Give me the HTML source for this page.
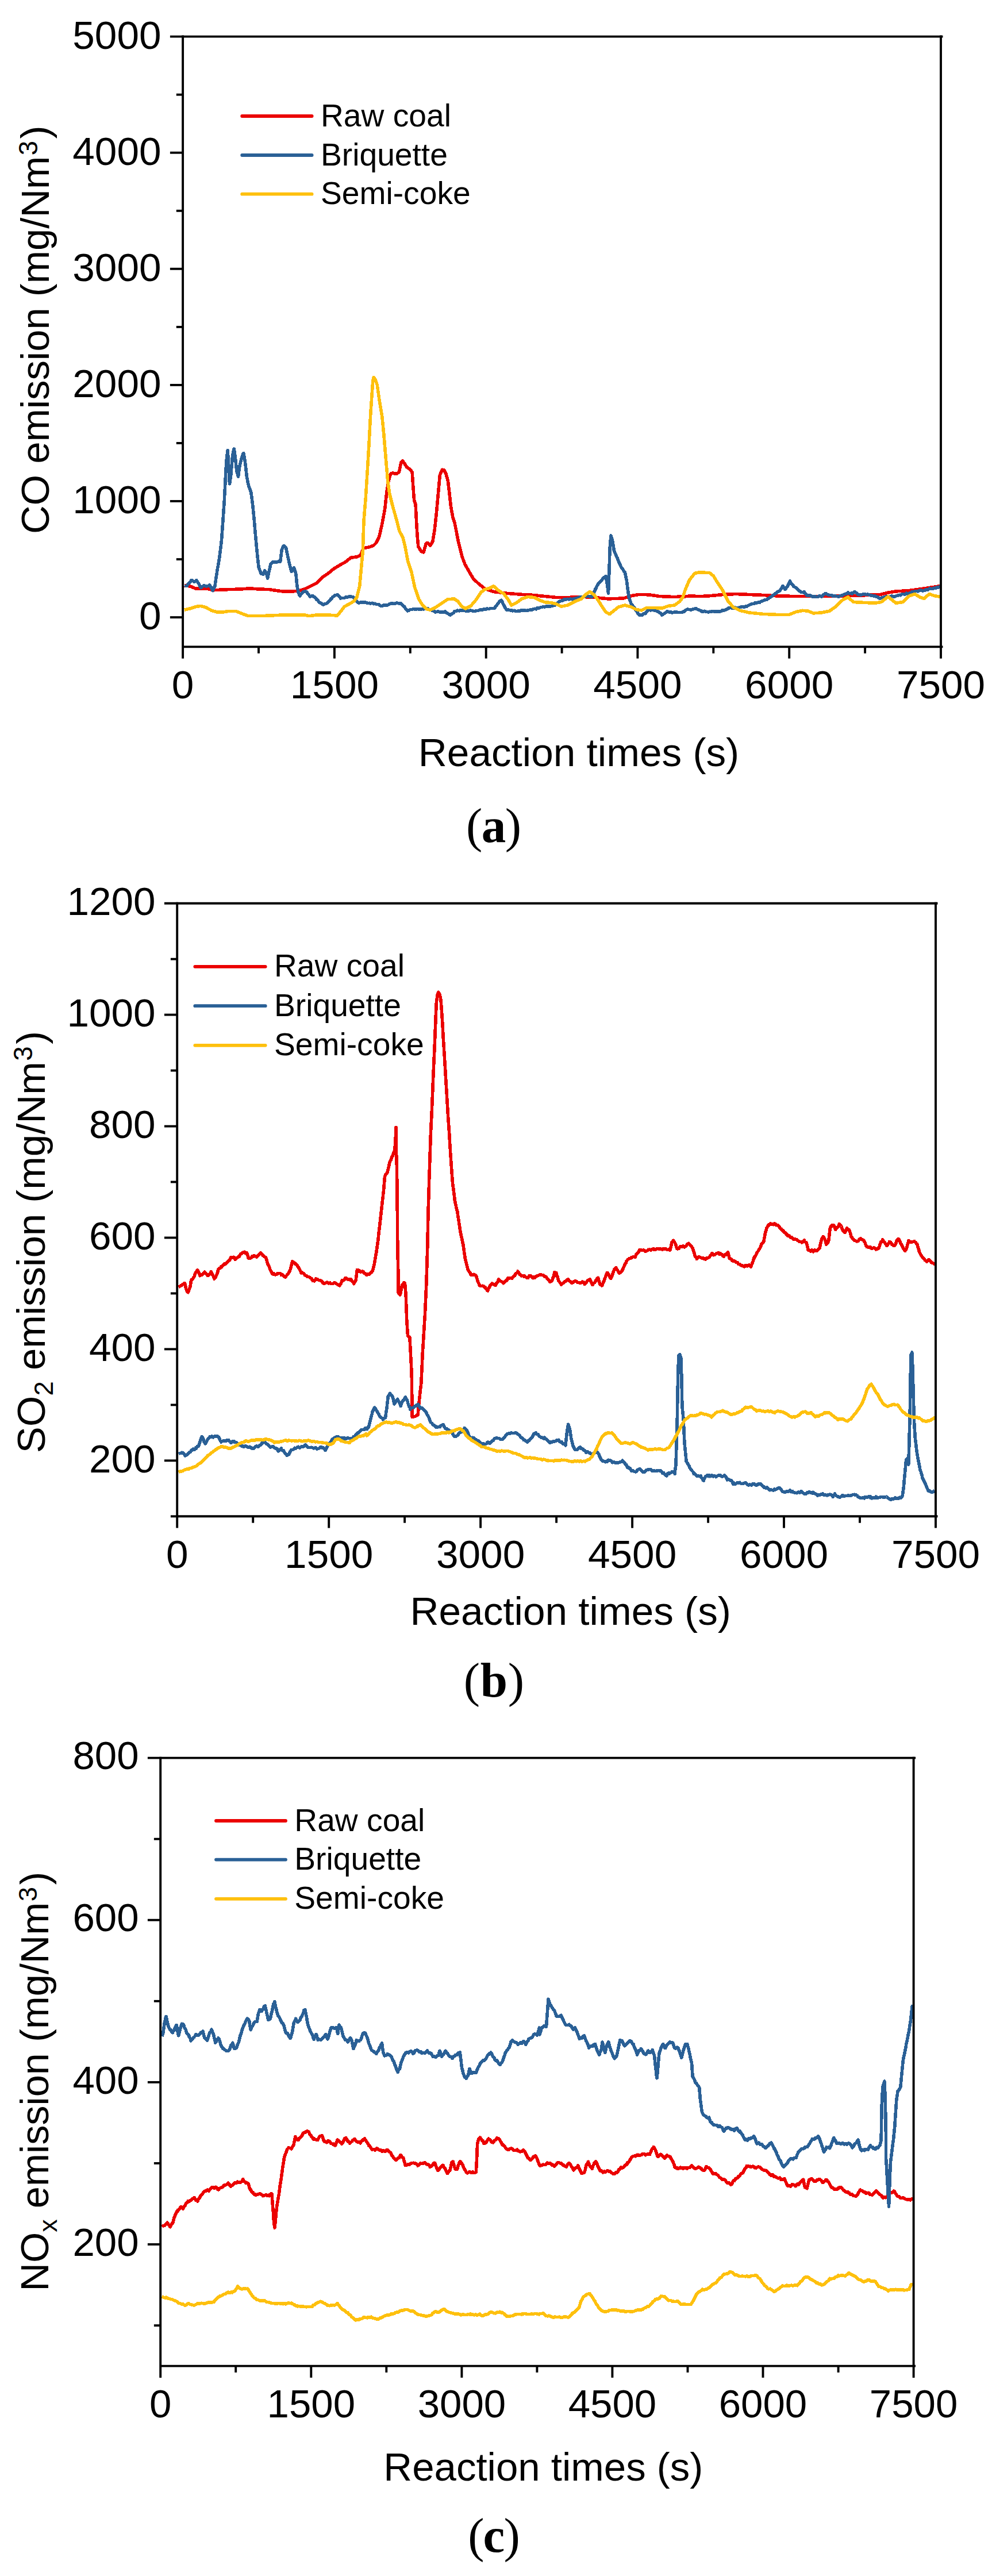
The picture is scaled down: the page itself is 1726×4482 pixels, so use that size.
<!DOCTYPE html>
<html><head><meta charset="utf-8"><title>Emission figures</title>
<style>html,body{margin:0;padding:0;background:#fff}svg{display:block}text{font-family:"Liberation Sans",Arial,sans-serif;fill:#000}.lab{font-family:"Liberation Serif","Times New Roman",serif}</style></head><body>
<svg width="1726" height="4482" viewBox="0 0 1726 4482">
<rect width="1726" height="4482" fill="#fff"/>
<g id="chart1">
<clipPath id="cp0"><rect x="318.1" y="63.6" width="1318.9" height="1061.8"/></clipPath>
<g clip-path="url(#cp0)">
<polyline points="320.7,1018.8 331.3,1020.1 339.6,1023.8 351.3,1023.8 361.2,1024.5 371.2,1026.8 384.5,1026.1 401.2,1025.5 417.8,1025.1 434.4,1023.8 451.1,1025.1 467.7,1025.5 477.7,1027.1 491.0,1028.8 510.9,1028.8 520.9,1027.8 530.9,1024.5 540.9,1019.5 550.9,1014.5 560.8,1004.5 570.8,997.9 580.8,989.5 590.8,983.5 600.8,977.9 610.7,970.2 620.7,968.9 627.4,966.2 632.4,953.9 642.9,951.7 649.6,949.4 654.6,944.4 659.6,934.4 664.6,912.8 669.6,886.2 672.9,856.2 676.2,836.3 679.5,824.6 682.9,823.0 689.5,824.6 694.5,821.3 697.8,804.7 700.5,802.0 703.8,806.3 707.8,813.0 712.8,816.3 717.1,821.3 718.8,846.2 720.5,869.5 723.1,877.9 724.5,906.1 726.1,932.7 727.8,951.0 732.8,959.4 737.1,961.0 741.1,946.0 743.7,944.4 748.4,949.4 752.7,942.7 756.1,922.8 759.4,892.8 762.7,856.2 765.4,826.3 769.4,817.3 772.7,818.0 776.0,824.6 779.3,836.3 781.7,856.2 784.3,879.5 787.7,899.5 791.0,909.5 794.3,926.1 797.6,942.7 801.0,956.0 804.3,969.3 809.3,982.6 814.3,991.0 819.3,999.9 823.4,1006.5 832.3,1015.3 843.4,1024.2 858.9,1029.5 881.1,1032.2 903.2,1034.0 925.4,1035.3 947.6,1037.5 969.8,1039.7 992.0,1039.3 1014.1,1038.4 1036.3,1039.7 1058.5,1041.9 1085.1,1041.0 1098.4,1036.6 1111.7,1034.4 1129.5,1034.8 1147.2,1037.5 1169.4,1038.4 1188.0,1038.2 1201.9,1036.8 1215.8,1037.7 1234.4,1036.8 1257.6,1034.5 1280.7,1033.5 1303.9,1034.5 1327.1,1035.4 1350.3,1036.8 1373.5,1037.3 1396.7,1037.7 1419.9,1037.7 1443.0,1037.3 1466.2,1036.8 1489.4,1036.3 1512.6,1035.4 1531.1,1034.5 1545.1,1031.2 1559.0,1028.9 1582.2,1027.5 1605.3,1024.3 1623.9,1021.5 1635.5,1019.6" fill="none" stroke="#EB0000" stroke-width="5.6" stroke-linejoin="round" stroke-linecap="butt" shape-rendering="crispEdges"/>
<polyline points="320.7,1019.5 323.2,1019.6 325.6,1018.9 326.3,1017.5 327.9,1015.1 330.1,1013.6 332.3,1010.7 333.0,1009.6 334.6,1010.0 337.0,1011.9 338.0,1012.2 339.5,1011.6 341.9,1009.6 342.0,1010.1 344.0,1012.9 346.2,1016.4 346.3,1016.4 348.2,1020.7 349.6,1022.8 350.3,1022.2 352.7,1020.3 354.6,1019.2 355.1,1018.6 357.6,1019.8 359.6,1020.0 360.1,1019.7 362.6,1019.5 364.6,1017.8 364.9,1018.5 367.0,1021.6 369.0,1024.9 370.2,1027.7 371.0,1025.4 373.0,1021.5 373.9,1019.8 374.6,1015.0 375.9,1005.9 377.2,997.9 377.9,993.0 378.5,989.4 379.9,981.5 381.3,973.2 381.9,969.8 382.6,963.9 383.7,954.9 384.9,945.3 385.5,939.4 385.9,934.5 386.7,922.6 387.6,910.7 387.9,906.4 388.4,898.9 389.2,887.3 390.0,875.2 390.2,873.3 390.7,862.4 391.4,849.6 391.9,840.1 392.0,836.5 392.7,823.8 393.4,811.3 393.8,803.4 394.3,799.6 395.4,789.7 396.2,783.8 396.5,788.6 397.2,800.4 397.8,810.1 398.0,812.8 398.7,826.0 399.3,838.5 399.5,841.8 400.5,835.1 401.8,826.5 401.8,826.4 402.7,815.2 403.7,803.8 404.5,793.2 404.6,792.4 406.1,785.5 407.2,780.9 407.6,783.6 408.8,791.8 409.5,796.8 410.0,802.0 411.0,812.5 411.8,819.7 412.3,821.8 414.0,826.8 414.5,829.3 415.3,822.6 416.6,813.6 417.1,810.1 418.1,805.7 419.7,799.7 420.5,796.8 421.4,793.8 423.3,789.0 423.8,788.5 424.9,794.2 426.3,802.5 426.4,803.0 427.4,811.8 428.5,821.5 429.4,830.0 429.7,830.8 431.2,839.2 432.7,845.6 432.8,846.6 434.6,850.3 436.4,855.3 436.8,856.7 437.8,863.8 439.0,873.0 439.4,876.5 440.1,883.2 441.1,893.3 441.8,900.0 442.2,904.0 443.1,914.8 444.1,926.0 444.4,929.7 445.1,937.1 446.0,947.5 447.0,958.6 447.1,959.3 448.1,968.7 449.2,978.8 450.1,986.4 450.5,987.9 452.3,992.7 454.2,997.9 454.4,998.0 456.6,998.9 457.7,999.4 458.7,997.3 460.4,992.8 460.6,992.6 462.7,996.3 463.7,998.1 464.6,1001.0 465.7,1006.2 466.1,1003.8 467.6,996.5 468.4,992.6 469.2,989.9 470.7,982.2 471.0,981.3 472.9,979.2 474.4,977.6 475.2,978.1 477.8,977.7 480.3,977.9 481.0,978.6 482.8,977.7 485.3,976.8 487.7,977.0 487.7,976.4 488.9,967.5 490.1,958.2 490.3,956.6 492.0,952.5 493.6,949.6 494.0,949.5 496.4,952.0 497.6,953.0 498.3,956.6 499.8,963.9 500.3,966.1 501.3,970.7 502.9,977.8 503.6,980.9 504.5,984.0 506.1,990.9 507.0,994.3 507.9,993.5 510.1,989.6 511.6,987.6 512.1,989.2 513.8,995.2 514.9,999.3 515.3,1003.1 516.3,1013.4 516.9,1019.4 517.6,1022.8 519.0,1029.7 519.3,1031.4 520.9,1035.4 521.9,1036.9 523.0,1035.1 525.1,1032.2 525.9,1031.2 527.5,1029.6 529.9,1029.1 530.9,1028.8 532.3,1029.2 534.2,1030.9 534.6,1032.1 536.8,1034.3 538.9,1037.4 539.2,1038.0 541.4,1037.5 543.9,1036.4 544.2,1037.1 546.3,1038.4 548.5,1039.8 550.8,1043.1 550.9,1042.5 553.1,1044.7 555.4,1047.9 557.5,1049.5 557.6,1048.6 560.0,1050.7 562.4,1051.9 562.5,1052.1 564.9,1050.6 567.3,1050.3 569.2,1049.2 569.7,1048.4 572.0,1046.1 574.2,1044.6 575.8,1041.8 576.5,1042.0 578.7,1038.9 581.0,1037.5 582.5,1036.0 583.4,1035.7 585.8,1035.3 586.8,1034.4 588.2,1035.3 590.4,1037.6 592.4,1040.2 592.7,1041.1 595.2,1040.4 597.8,1040.7 600.4,1039.9 600.8,1039.2 602.9,1039.2 605.4,1038.8 607.4,1037.9 607.9,1037.8 610.4,1037.9 613.0,1038.5 614.1,1038.9 615.3,1039.8 617.6,1042.8 619.1,1044.4 619.8,1045.9 622.1,1047.6 624.0,1049.0 624.4,1049.4 627.0,1048.1 629.6,1047.7 632.1,1047.9 634.0,1047.6 634.7,1047.7 637.2,1048.6 639.8,1049.5 642.3,1049.3 644.8,1050.1 647.4,1049.2 649.9,1050.1 650.7,1050.8 652.4,1050.3 654.9,1051.5 657.4,1051.5 659.9,1052.2 662.4,1054.4 664.0,1054.3 664.9,1054.2 667.5,1052.9 670.1,1053.0 672.6,1052.6 672.8,1053.2 675.1,1052.6 677.5,1051.1 680.0,1050.3 681.7,1049.4 682.5,1049.7 685.1,1050.5 687.7,1050.1 690.3,1048.8 692.9,1049.6 695.5,1050.0 697.2,1049.5 698.0,1051.0 700.3,1052.4 702.5,1054.9 703.9,1055.7 704.8,1057.8 706.9,1060.4 709.1,1062.9 709.2,1062.7 711.6,1062.0 714.1,1060.4 716.5,1060.6 717.2,1060.5 719.1,1059.5 721.7,1060.0 724.2,1059.9 726.8,1059.6 729.4,1060.0 732.0,1060.4 734.6,1059.8 734.9,1059.3 737.1,1060.0 739.7,1058.5 742.3,1059.1 743.8,1058.6 744.8,1059.4 747.2,1060.6 749.7,1060.5 752.1,1062.3 754.5,1062.9 756.9,1064.2 757.0,1065.1 759.6,1064.6 762.1,1063.6 764.7,1064.7 767.3,1065.4 768.0,1065.2 769.8,1065.0 772.4,1065.0 774.6,1063.8 774.9,1065.1 777.3,1066.3 779.6,1067.6 782.0,1069.7 783.5,1070.1 784.4,1068.5 786.7,1068.0 789.0,1066.2 791.4,1063.4 792.4,1063.4 793.8,1063.2 796.4,1062.1 798.9,1063.0 801.5,1061.4 803.4,1062.0 804.0,1061.8 806.6,1061.8 809.2,1062.7 811.7,1062.8 814.3,1062.6 814.5,1063.5 816.8,1062.3 819.4,1062.1 822.0,1062.9 824.6,1063.6 827.2,1063.1 827.8,1062.9 829.7,1062.4 832.3,1062.4 834.8,1061.3 837.4,1060.7 839.9,1060.8 841.1,1060.3 842.4,1059.5 845.0,1060.4 847.5,1058.9 850.0,1059.6 852.2,1059.0 852.6,1058.6 855.1,1058.7 857.7,1058.5 860.2,1058.3 861.1,1057.2 862.5,1055.0 864.7,1052.5 866.8,1049.7 867.8,1048.5 869.1,1046.4 871.3,1045.1 872.2,1044.4 873.4,1046.4 875.4,1050.7 876.6,1053.0 877.5,1054.3 879.5,1058.5 881.1,1060.4 881.7,1061.0 884.3,1061.0 886.8,1061.5 889.3,1062.6 889.9,1061.6 891.9,1062.8 894.4,1062.2 897.0,1063.2 898.8,1063.4 899.5,1063.5 902.1,1062.7 904.6,1063.3 907.2,1061.6 909.8,1062.4 912.1,1061.8 912.3,1061.9 914.9,1062.4 917.5,1062.1 920.1,1061.6 922.6,1060.8 925.2,1060.5 925.4,1061.0 927.7,1059.9 930.2,1059.3 932.7,1059.9 935.2,1057.7 937.7,1058.3 938.7,1057.4 940.2,1056.9 942.8,1056.4 945.3,1055.5 947.8,1055.9 950.4,1054.9 952.0,1055.2 952.9,1054.7 955.5,1055.4 958.0,1055.1 960.5,1053.7 963.1,1053.7 965.3,1053.3 965.6,1052.5 967.9,1050.4 970.3,1048.9 972.6,1047.0 974.2,1046.5 975.0,1045.8 977.4,1044.8 979.9,1044.7 982.3,1042.6 983.1,1043.0 984.9,1043.0 987.4,1042.3 990.0,1043.0 992.6,1041.9 995.2,1042.8 996.4,1042.2 997.7,1041.6 1000.2,1041.3 1002.7,1041.1 1005.2,1040.1 1007.7,1039.4 1009.7,1038.6 1010.2,1039.2 1012.8,1038.6 1015.3,1038.9 1017.9,1037.3 1020.5,1037.8 1020.8,1037.6 1023.0,1037.5 1025.6,1037.8 1028.2,1037.6 1029.7,1038.7 1030.5,1036.4 1032.4,1032.4 1034.4,1028.8 1036.3,1024.0 1036.4,1024.8 1038.5,1020.0 1040.6,1016.4 1042.6,1013.4 1043.0,1013.0 1044.8,1011.7 1047.1,1009.1 1049.3,1006.4 1049.6,1005.5 1051.6,1004.4 1054.0,1002.4 1054.0,1003.1 1055.4,1010.6 1056.3,1015.2 1056.8,1019.3 1058.0,1028.1 1058.5,1032.1 1058.8,1024.1 1059.3,1010.0 1059.8,997.4 1059.9,996.2 1060.3,981.8 1060.7,967.4 1061.1,953.1 1061.2,952.9 1062.1,941.7 1062.9,931.8 1063.1,932.7 1064.9,937.7 1065.6,939.8 1066.4,945.6 1067.7,953.5 1068.2,957.4 1069.4,960.7 1071.3,964.6 1073.2,969.5 1074.0,970.7 1075.1,973.6 1077.1,978.6 1079.0,982.4 1080.7,986.7 1081.0,987.1 1083.1,989.6 1085.3,993.5 1087.3,995.3 1087.4,995.8 1088.9,1003.4 1090.4,1010.5 1090.4,1011.1 1091.6,1019.9 1092.8,1029.1 1094.0,1037.5 1094.1,1038.6 1095.9,1043.9 1097.7,1049.1 1098.4,1050.8 1099.7,1052.2 1101.9,1055.1 1102.8,1055.9 1104.1,1057.4 1106.2,1062.1 1108.3,1063.9 1109.5,1066.6 1110.5,1067.6 1112.7,1070.3 1113.9,1070.5 1115.1,1070.0 1117.6,1070.1 1120.0,1067.7 1122.5,1067.0 1122.8,1067.6 1124.8,1065.0 1127.0,1062.5 1129.3,1061.1 1129.5,1060.3 1131.8,1061.8 1134.3,1061.6 1136.9,1060.8 1138.3,1062.1 1139.4,1061.8 1141.9,1063.0 1144.3,1064.0 1145.0,1063.9 1146.7,1065.6 1149.0,1066.8 1151.3,1069.1 1151.6,1070.1 1153.6,1069.2 1156.0,1067.1 1158.4,1065.8 1160.5,1064.3 1160.8,1063.5 1163.3,1064.8 1165.8,1064.7 1168.3,1065.3 1169.4,1066.1 1170.8,1065.6 1173.4,1065.1 1176.0,1065.2 1178.5,1065.3 1181.1,1065.5 1183.6,1065.7 1186.2,1065.6 1188.0,1064.7 1188.7,1064.3 1191.2,1063.8 1193.6,1061.2 1196.0,1059.9 1197.3,1060.2 1198.4,1060.6 1200.9,1060.5 1201.9,1061.3 1203.4,1060.5 1205.9,1060.0 1208.4,1059.3 1210.9,1058.5 1211.2,1058.8 1213.3,1060.2 1215.7,1061.0 1218.1,1062.0 1220.5,1063.1 1220.6,1063.8 1223.1,1064.5 1225.7,1063.2 1228.3,1064.4 1230.8,1064.7 1233.4,1064.8 1234.4,1064.3 1235.9,1064.6 1238.5,1063.8 1241.1,1063.6 1243.7,1064.2 1246.2,1064.1 1248.8,1063.9 1251.4,1064.0 1254.0,1063.7 1255.2,1063.2 1256.5,1061.9 1258.9,1062.3 1261.4,1061.4 1263.8,1060.4 1266.3,1059.0 1266.8,1058.3 1268.8,1057.9 1271.4,1057.5 1274.0,1058.4 1276.6,1058.0 1279.1,1057.1 1280.7,1057.9 1281.7,1058.5 1284.2,1057.9 1286.8,1056.7 1289.3,1056.0 1291.9,1055.5 1294.4,1056.3 1297.0,1055.7 1297.0,1055.2 1299.4,1055.1 1301.9,1053.5 1304.3,1052.2 1306.8,1051.3 1308.6,1050.8 1309.3,1050.5 1311.8,1050.3 1314.3,1048.6 1316.8,1049.2 1319.3,1047.8 1321.8,1048.4 1322.5,1047.3 1324.3,1046.4 1326.7,1045.7 1329.2,1044.4 1331.6,1043.6 1334.0,1043.2 1336.4,1041.3 1336.5,1041.9 1338.8,1040.1 1341.2,1038.7 1343.6,1036.6 1345.9,1035.0 1348.3,1033.2 1350.3,1032.1 1350.7,1031.5 1353.0,1029.8 1355.4,1028.7 1357.3,1027.3 1357.7,1026.7 1359.8,1023.4 1361.8,1019.4 1361.9,1019.4 1364.0,1022.4 1366.2,1025.5 1366.5,1025.0 1368.4,1022.6 1370.5,1019.5 1371.2,1018.5 1372.5,1015.6 1374.4,1011.2 1374.5,1010.9 1376.6,1014.9 1378.8,1017.0 1380.4,1019.3 1381.0,1020.7 1383.3,1021.4 1385.6,1023.4 1387.4,1025.1 1387.9,1025.2 1390.3,1027.9 1392.6,1029.1 1394.4,1030.7 1395.0,1030.5 1397.5,1030.8 1399.0,1029.5 1399.9,1031.1 1402.0,1033.2 1403.6,1035.7 1404.3,1036.2 1406.9,1036.1 1409.4,1035.9 1411.9,1037.4 1414.5,1038.4 1415.2,1037.8 1417.1,1037.7 1419.7,1038.3 1422.3,1038.6 1424.9,1037.0 1427.5,1037.3 1429.1,1038.0 1430.0,1037.8 1432.3,1034.7 1434.6,1033.7 1436.1,1032.4 1436.9,1032.8 1439.4,1034.3 1441.8,1035.2 1443.0,1035.7 1444.2,1035.5 1446.8,1035.5 1449.3,1037.0 1451.9,1036.3 1454.4,1037.6 1457.0,1037.7 1457.0,1037.6 1459.5,1038.1 1462.0,1036.5 1464.6,1036.2 1466.2,1035.8 1467.0,1034.9 1469.5,1033.7 1471.9,1033.1 1474.3,1032.4 1475.5,1031.0 1476.8,1032.4 1479.3,1032.6 1481.8,1032.0 1482.5,1033.2 1484.2,1031.7 1486.5,1030.3 1487.1,1029.6 1488.9,1031.0 1491.2,1032.6 1493.6,1034.7 1494.0,1034.5 1496.1,1034.9 1498.7,1034.9 1501.3,1033.9 1503.9,1033.5 1506.5,1034.4 1508.0,1034.3 1509.1,1034.0 1511.7,1034.7 1514.2,1035.6 1516.7,1036.2 1519.3,1036.6 1521.8,1037.6 1521.9,1036.6 1524.2,1038.1 1526.6,1038.4 1529.1,1040.7 1531.1,1041.4 1531.5,1040.6 1534.0,1040.1 1536.4,1039.9 1538.9,1038.7 1540.4,1038.5 1541.4,1037.9 1544.0,1037.7 1546.6,1038.8 1549.2,1038.1 1551.8,1037.0 1554.3,1037.9 1554.3,1037.5 1556.9,1038.0 1559.4,1036.7 1561.9,1036.4 1563.6,1035.6 1564.4,1035.3 1566.9,1035.8 1569.5,1033.5 1572.0,1033.7 1574.5,1034.2 1577.1,1032.2 1577.5,1033.2 1579.6,1033.4 1582.0,1032.1 1584.5,1031.7 1587.0,1029.4 1589.5,1029.6 1591.4,1029.0 1592.0,1028.7 1594.6,1028.4 1597.1,1028.9 1599.7,1027.4 1602.3,1026.9 1604.8,1027.8 1605.3,1027.8 1607.3,1027.7 1609.9,1026.8 1612.4,1025.5 1614.9,1026.1 1617.4,1023.8 1619.2,1024.1 1619.9,1024.7 1622.4,1024.5 1625.0,1023.1 1627.5,1023.7 1630.1,1021.7 1632.6,1022.2 1635.1,1020.7 1635.5,1021.3" fill="none" stroke="#2A6096" stroke-width="5.6" stroke-linejoin="round" stroke-linecap="butt" shape-rendering="crispEdges"/>
<polyline points="320.7,1061.1 331.3,1058.7 341.3,1055.4 349.6,1054.4 357.9,1056.7 367.9,1062.1 377.9,1065.1 387.9,1065.1 397.8,1063.4 411.1,1063.7 421.1,1067.7 431.1,1071.4 451.1,1071.7 471.0,1071.0 491.0,1070.0 517.6,1070.0 530.9,1070.0 537.6,1071.7 550.9,1070.0 570.8,1070.0 586.8,1071.0 592.4,1064.4 599.1,1055.4 607.4,1051.1 615.7,1046.1 620.7,1039.4 625.7,1019.5 631.3,959.4 633.0,906.1 636.3,866.2 639.6,813.0 642.0,773.1 644.6,723.2 647.3,683.2 648.9,661.6 650.3,656.6 652.9,660.0 656.3,669.9 659.6,693.2 664.6,723.2 667.9,756.4 671.2,796.4 674.6,836.3 677.9,859.6 682.9,879.5 689.5,902.8 694.5,922.8 701.2,936.1 705.2,952.7 709.5,976.0 716.1,995.9 721.6,1021.7 728.3,1041.6 734.9,1052.7 741.6,1059.4 748.2,1061.1 756.9,1057.5 768.0,1049.9 779.0,1042.8 790.1,1041.9 796.8,1046.4 803.4,1055.2 810.1,1058.8 819.0,1054.4 827.8,1044.2 836.7,1030.8 843.4,1025.5 852.2,1023.3 858.9,1019.8 867.8,1027.7 876.6,1033.1 883.3,1041.9 889.9,1053.0 898.8,1048.6 907.7,1041.9 918.8,1038.4 929.9,1039.7 938.7,1044.2 947.6,1047.7 958.7,1048.6 967.6,1050.8 976.4,1055.2 987.5,1053.0 1000.8,1046.4 1011.9,1041.9 1020.8,1033.1 1026.5,1029.5 1034.1,1035.3 1040.7,1044.2 1047.4,1055.2 1054.0,1065.0 1060.7,1068.5 1067.4,1063.2 1076.2,1056.1 1087.3,1053.0 1098.4,1056.1 1107.3,1060.6 1116.1,1061.9 1125.0,1057.5 1138.3,1057.5 1151.6,1058.3 1162.7,1054.4 1173.8,1053.0 1182.7,1046.4 1188.0,1039.1 1192.6,1025.2 1199.6,1009.0 1208.9,997.4 1215.8,996.0 1234.4,996.5 1241.3,1002.0 1248.3,1013.6 1257.6,1027.5 1266.8,1046.1 1276.1,1056.7 1287.7,1062.3 1303.9,1066.0 1327.1,1068.3 1350.3,1069.3 1373.5,1069.3 1385.1,1064.6 1396.7,1062.3 1405.9,1063.2 1415.2,1066.9 1429.1,1066.0 1443.0,1063.2 1454.6,1055.3 1466.2,1043.8 1475.5,1039.1 1484.8,1047.5 1503.3,1048.4 1521.9,1049.3 1533.5,1047.5 1545.1,1038.2 1552.0,1043.8 1559.0,1049.3 1570.6,1047.5 1582.2,1036.8 1591.4,1033.5 1600.7,1039.1 1607.7,1041.4 1616.9,1033.5 1626.2,1036.8 1635.5,1038.2" fill="none" stroke="#FEC00E" stroke-width="5.6" stroke-linejoin="round" stroke-linecap="butt" shape-rendering="crispEdges"/>
</g>
<g stroke="#000" stroke-width="3.9" fill="none" stroke-linecap="butt">
<path d="M318.1 61.6 V1145.7"/>
<path d="M1637.0 61.6 V1145.7"/>
<path d="M295.9 63.6 H1640.5"/>
<path d="M318.1 1125.4 H1640.5"/>
<path d="M295.9 1074.1 H318.1"/>
<path d="M295.9 872.0 H318.1"/>
<path d="M295.9 669.9 H318.1"/>
<path d="M295.9 467.8 H318.1"/>
<path d="M295.9 265.7 H318.1"/>
<path d="M306.8 973.1 H318.1"/>
<path d="M306.8 771.0 H318.1"/>
<path d="M306.8 568.9 H318.1"/>
<path d="M306.8 366.8 H318.1"/>
<path d="M306.8 164.7 H318.1"/>
<path d="M581.9 1125.4 V1145.7"/>
<path d="M845.7 1125.4 V1145.7"/>
<path d="M1109.4 1125.4 V1145.7"/>
<path d="M1373.2 1125.4 V1145.7"/>
<path d="M450.0 1125.4 V1136.8"/>
<path d="M713.8 1125.4 V1136.8"/>
<path d="M977.6 1125.4 V1136.8"/>
<path d="M1241.3 1125.4 V1136.8"/>
<path d="M1505.1 1125.4 V1136.8"/>
</g>
<g font-size="69.3">
<text transform="translate(280.5 1095.4) scale(1 1)" text-anchor="end">0</text>
<text transform="translate(280.5 893.3) scale(1 1)" text-anchor="end">1000</text>
<text transform="translate(280.5 691.2) scale(1 1)" text-anchor="end">2000</text>
<text transform="translate(280.5 489.1) scale(1 1)" text-anchor="end">3000</text>
<text transform="translate(280.5 287.0) scale(1 1)" text-anchor="end">4000</text>
<text transform="translate(280.5 84.9) scale(1 1)" text-anchor="end">5000</text>
<text transform="translate(318.1 1214.8) scale(1 1)" text-anchor="middle">0</text>
<text transform="translate(581.9 1214.8) scale(1 1)" text-anchor="middle">1500</text>
<text transform="translate(845.7 1214.8) scale(1 1)" text-anchor="middle">3000</text>
<text transform="translate(1109.4 1214.8) scale(1 1)" text-anchor="middle">4500</text>
<text transform="translate(1373.2 1214.8) scale(1 1)" text-anchor="middle">6000</text>
<text transform="translate(1637.0 1214.8) scale(1 1)" text-anchor="middle">7500</text>
<text transform="translate(1007.0 1332.5) scale(1 1)" text-anchor="middle">Reaction times (s)</text>
<text transform="translate(84.7 929.1) rotate(-90) scale(1 1)" font-size="68.80" x="0" y="0">CO emission (mg/Nm<tspan font-size="45.4" dy="-20.0" dx="1.5">3</tspan><tspan dy="20.0" dx="3.5">)</tspan></text>
</g>
<g stroke-width="5.8" fill="none" stroke-linecap="round">
<path d="M421.2 202.0 H542.6" stroke="#EB0000"/>
<path d="M421.2 270.0 H542.6" stroke="#2A6096"/>
<path d="M421.2 337.7 H542.6" stroke="#FEC00E"/>
</g>
<g font-size="55.2">
<text transform="translate(558.0 219.6) scale(1 1)">Raw coal</text>
<text transform="translate(558.0 287.6) scale(1 1)">Briquette</text>
<text transform="translate(558.0 355.3) scale(1 1)">Semi-coke</text>
</g>
<text class="lab" x="858.2" y="1464.7" text-anchor="middle" font-size="85" letter-spacing="-1.5">(<tspan font-weight="bold">a</tspan>)</text>
</g>
<g id="chart2">
<clipPath id="cp1"><rect x="308.2" y="1571.7" width="1319.8" height="1066.6"/></clipPath>
<g clip-path="url(#cp1)">
<polyline points="310.7,2239.7 313.0,2237.9 315.4,2236.6 316.3,2236.2 317.7,2234.7 320.1,2233.2 321.3,2232.5 322.1,2234.9 323.7,2242.1 324.0,2243.2 325.7,2246.9 327.3,2248.6 327.7,2247.4 329.5,2241.8 330.6,2240.0 331.2,2236.8 332.6,2227.6 332.9,2226.9 334.6,2226.1 336.9,2222.9 337.9,2221.5 338.9,2218.1 340.8,2213.0 341.3,2213.1 343.0,2210.1 343.9,2210.1 345.1,2212.5 347.0,2216.4 347.9,2219.7 349.2,2218.7 351.5,2218.4 352.9,2216.5 353.8,2215.9 356.1,2213.2 356.2,2213.3 358.3,2215.5 360.5,2217.6 361.2,2219.6 362.8,2219.0 365.0,2216.3 367.2,2213.3 367.3,2212.8 369.2,2216.7 369.5,2217.9 371.2,2220.4 372.9,2225.0 373.3,2223.9 375.4,2221.9 376.2,2219.6 377.3,2217.5 379.1,2211.9 379.5,2209.3 381.2,2206.9 383.4,2206.3 384.5,2203.8 385.7,2204.6 388.1,2201.3 390.5,2198.9 391.2,2199.9 392.8,2199.3 395.1,2195.9 396.2,2195.4 397.4,2193.7 399.5,2192.6 401.1,2189.4 401.8,2187.8 404.3,2187.7 406.1,2187.7 406.8,2187.3 409.1,2191.2 409.5,2190.2 411.5,2189.3 413.9,2187.4 414.5,2186.8 416.2,2186.1 418.4,2182.1 420.7,2181.4 421.1,2180.1 423.1,2179.3 424.4,2178.5 425.5,2178.3 428.0,2181.1 429.4,2180.1 430.2,2181.8 432.0,2188.6 432.7,2189.5 434.2,2188.7 436.6,2188.9 437.7,2187.3 439.0,2185.4 441.1,2186.3 441.5,2184.9 444.1,2185.3 446.6,2187.3 447.7,2186.3 449.0,2184.6 451.3,2181.8 453.6,2179.7 453.7,2180.9 455.8,2182.2 457.7,2184.9 458.1,2184.7 460.5,2186.5 462.7,2188.6 462.8,2188.5 464.5,2194.7 466.0,2200.2 466.2,2199.4 468.2,2203.4 469.3,2206.9 470.2,2209.4 472.1,2212.7 472.7,2214.5 474.3,2216.6 476.0,2217.5 476.7,2216.0 479.2,2217.9 481.8,2217.2 482.6,2215.9 484.3,2215.8 486.8,2215.3 489.3,2216.6 489.3,2218.5 491.7,2217.8 494.1,2220.8 496.0,2221.2 496.4,2222.0 498.7,2219.3 500.9,2216.9 501.0,2216.1 503.0,2213.8 504.9,2209.3 505.1,2208.7 506.7,2202.8 508.3,2196.8 508.6,2194.9 510.5,2195.7 512.6,2198.6 512.8,2197.4 515.0,2199.1 517.3,2202.1 517.6,2203.1 519.4,2205.1 521.4,2209.0 523.5,2213.1 524.2,2214.8 525.8,2214.1 528.3,2215.7 529.2,2216.8 530.7,2219.0 533.0,2219.8 535.4,2221.6 535.9,2221.5 537.7,2221.8 540.0,2223.3 542.3,2225.1 544.2,2228.5 544.7,2228.6 547.2,2228.8 549.7,2225.0 552.2,2226.3 552.5,2225.7 554.6,2227.5 557.0,2227.3 557.5,2228.6 559.4,2228.4 561.7,2231.8 562.5,2232.6 564.1,2233.3 566.6,2232.1 569.1,2231.4 569.1,2231.0 571.6,2232.9 574.1,2231.9 574.1,2232.6 576.6,2233.7 579.2,2233.5 581.8,2231.9 584.1,2232.4 584.4,2233.4 586.7,2234.2 589.0,2236.1 590.8,2236.9 591.3,2236.3 593.4,2232.7 595.4,2227.6 595.8,2228.2 597.6,2227.7 599.9,2225.1 600.7,2223.3 602.2,2223.5 604.6,2225.9 605.7,2225.8 607.1,2225.7 609.7,2227.4 610.7,2226.0 612.0,2229.0 614.1,2230.1 615.7,2233.8 616.2,2232.8 618.3,2228.6 619.0,2228.3 619.8,2221.9 621.0,2212.6 621.4,2209.5 622.9,2209.5 625.2,2210.6 625.7,2212.2 627.7,2213.2 630.3,2211.9 632.3,2212.8 632.8,2214.7 635.1,2215.9 637.4,2217.2 638.0,2218.3 639.9,2216.9 642.4,2217.6 643.0,2216.6 644.7,2214.7 646.9,2213.3 648.0,2211.7 648.9,2208.9 650.6,2201.9 651.3,2199.7 652.1,2194.5 653.5,2186.0 654.6,2179.6 654.8,2178.9 656.1,2170.1 657.4,2160.9 658.0,2156.8 658.5,2150.8 659.6,2140.7 660.8,2131.2 661.3,2126.2 661.9,2120.9 663.0,2111.2 664.1,2101.5 664.6,2096.5 665.2,2091.1 666.3,2081.9 667.4,2072.2 667.9,2066.5 668.4,2060.4 669.3,2049.2 669.6,2047.0 671.1,2043.0 673.2,2041.6 673.9,2040.0 675.0,2035.1 676.6,2029.4 677.9,2022.8 678.2,2021.6 680.2,2017.9 682.1,2012.3 682.9,2012.0 684.0,2008.3 685.9,2003.3 686.2,2002.9 687.2,1995.6 687.9,1989.2 688.1,1984.2 688.6,1970.2 688.9,1961.3 689.0,1966.7 689.2,1982.4 689.4,1998.1 689.6,2005.9 689.8,2013.0 690.3,2027.1 690.6,2036.6 690.6,2042.4 690.8,2058.5 691.0,2074.7 691.1,2090.9 691.2,2100.0 691.3,2107.2 691.4,2123.5 691.6,2139.9 691.7,2156.2 691.9,2172.6 691.9,2173.4 692.2,2187.4 692.6,2202.8 692.9,2216.5 692.9,2217.9 692.9,2235.2 692.9,2248.0 693.5,2249.8 695.6,2251.5 696.2,2252.9 697.3,2248.3 698.7,2240.7 699.5,2236.6 700.5,2234.7 701.9,2233.0 702.8,2231.7 704.5,2232.4 704.8,2236.1 705.7,2247.2 706.2,2253.0 706.4,2259.4 706.9,2273.9 707.4,2287.9 707.9,2299.9 708.0,2301.3 708.8,2313.4 709.5,2323.1 709.8,2324.8 712.1,2326.9 712.8,2326.4 713.3,2334.7 714.0,2347.7 714.5,2356.6 714.7,2360.7 715.4,2373.5 716.0,2386.1 716.2,2390.1 716.4,2401.4 716.6,2417.3 716.8,2432.9 716.8,2432.9 717.0,2449.2 717.2,2465.3 717.2,2465.3 719.6,2464.8 722.1,2464.6 722.8,2464.0 724.4,2463.0 726.8,2462.0 727.2,2460.3 728.0,2452.1 729.0,2440.4 729.5,2436.1 730.1,2430.8 731.2,2420.5 732.3,2411.2 732.8,2406.6 733.2,2399.1 733.8,2386.1 734.4,2372.7 735.0,2359.3 735.1,2356.4 735.7,2347.2 736.5,2334.9 737.1,2323.0 737.2,2322.5 738.0,2310.4 738.7,2297.7 739.5,2286.2 739.5,2285.1 740.1,2272.2 740.7,2258.9 741.3,2245.8 741.8,2235.7 741.9,2232.4 742.3,2217.7 742.8,2203.2 743.2,2189.0 743.6,2174.4 743.8,2169.6 744.0,2159.5 744.3,2144.0 744.6,2129.0 745.0,2113.8 745.1,2106.9 745.3,2099.2 745.8,2084.4 746.2,2070.1 746.6,2055.5 747.1,2041.2 747.1,2040.2 747.6,2027.4 748.0,2013.0 748.5,1998.8 749.0,1984.7 749.4,1972.8 749.5,1971.2 750.1,1957.4 750.8,1944.7 751.4,1930.9 751.8,1922.5 752.0,1917.7 752.5,1904.3 753.1,1890.4 753.6,1876.7 753.8,1873.0 754.2,1863.1 754.8,1850.4 755.4,1836.7 756.1,1823.8 756.1,1822.7 756.6,1809.8 757.1,1796.2 757.7,1782.4 757.8,1779.6 758.2,1769.0 758.8,1755.8 759.4,1742.8 759.5,1742.2 760.8,1734.0 761.1,1731.6 762.4,1727.2 762.7,1726.2 764.3,1729.2 765.1,1730.8 766.0,1734.3 767.1,1740.0 767.3,1743.7 768.2,1755.7 769.0,1766.8 769.4,1772.9 769.8,1779.6 770.5,1791.4 771.2,1804.6 771.7,1813.4 772.0,1816.2 772.7,1828.6 773.5,1841.4 774.2,1853.2 774.4,1855.8 775.0,1866.1 775.7,1878.0 776.5,1890.6 777.1,1899.1 777.2,1902.6 778.0,1915.3 778.7,1927.2 779.4,1939.1 779.4,1940.3 780.3,1952.3 781.1,1964.2 781.7,1972.3 781.9,1975.7 782.6,1988.3 783.4,2000.4 783.7,2006.1 784.2,2012.2 785.0,2024.0 785.8,2035.9 786.0,2039.4 786.7,2047.8 787.6,2058.9 787.7,2059.9 788.8,2067.9 790.0,2077.4 791.0,2086.2 791.2,2087.8 792.7,2095.3 794.2,2102.3 795.8,2107.8 796.0,2109.3 797.1,2117.7 798.4,2125.6 799.7,2134.7 801.0,2142.7 801.0,2143.0 802.5,2150.1 804.0,2157.1 805.6,2164.6 806.0,2165.8 806.9,2173.1 808.2,2182.2 809.3,2189.3 809.5,2190.2 811.1,2197.3 812.7,2203.1 814.3,2209.3 814.4,2208.8 816.5,2213.2 818.5,2215.3 819.3,2218.3 820.9,2218.6 823.4,2217.7 824.3,2217.3 825.8,2218.3 828.2,2219.2 828.3,2219.7 830.0,2224.9 830.9,2228.4 831.8,2230.8 833.7,2234.2 834.3,2236.6 836.1,2237.2 838.6,2237.7 839.3,2237.2 841.1,2237.5 843.5,2240.3 844.2,2239.9 845.7,2242.1 847.9,2245.3 848.6,2245.8 849.9,2242.4 851.8,2239.0 852.6,2236.4 854.1,2235.3 855.9,2234.5 856.4,2233.1 859.0,2234.8 861.5,2236.4 862.5,2236.3 863.7,2233.2 865.7,2231.1 867.5,2226.4 867.7,2225.8 870.1,2228.4 872.4,2229.7 872.5,2229.6 874.8,2231.0 875.9,2232.7 877.0,2231.4 879.3,2229.3 880.8,2227.5 881.6,2228.1 883.9,2223.5 885.8,2223.7 886.3,2224.4 888.8,2223.3 890.8,2224.4 891.3,2222.7 893.6,2220.9 895.8,2219.4 895.8,2218.4 897.9,2215.6 900.1,2214.2 900.8,2212.0 902.2,2213.6 904.4,2217.6 905.8,2218.0 906.7,2219.8 909.2,2219.5 911.7,2221.0 912.4,2219.8 914.1,2221.4 916.5,2223.2 917.4,2222.4 918.9,2223.2 921.2,2219.3 922.4,2219.5 923.6,2219.5 925.9,2222.3 927.4,2223.7 928.3,2221.7 930.7,2223.4 933.1,2220.6 935.5,2219.7 935.7,2219.7 938.0,2218.5 940.6,2217.6 942.4,2218.1 943.0,2218.4 945.4,2218.8 947.4,2220.8 947.8,2220.4 950.1,2221.8 952.3,2224.8 952.4,2225.1 954.6,2226.6 956.9,2230.5 957.4,2230.1 959.2,2229.6 961.3,2226.5 961.4,2225.0 963.1,2221.1 964.7,2215.0 964.9,2213.6 967.0,2218.7 967.3,2217.8 968.0,2214.7 968.7,2218.4 970.4,2222.7 971.3,2226.4 972.3,2229.1 974.5,2231.6 976.3,2233.7 976.6,2235.0 979.0,2233.0 981.4,2231.0 983.0,2229.3 983.8,2229.5 986.2,2227.4 988.0,2226.1 988.5,2225.5 990.8,2229.0 993.1,2229.9 994.6,2232.3 995.4,2232.5 997.8,2230.6 1000.3,2228.8 1001.3,2229.1 1002.7,2229.3 1005.2,2231.3 1007.6,2231.4 1007.9,2231.9 1010.2,2232.4 1012.7,2231.2 1012.9,2230.1 1015.1,2230.6 1017.4,2234.6 1017.9,2234.0 1019.7,2232.0 1021.9,2228.7 1022.9,2227.8 1024.2,2227.7 1026.2,2225.8 1026.5,2226.5 1028.5,2230.6 1030.5,2234.9 1031.2,2235.4 1032.6,2232.9 1034.7,2231.7 1036.2,2228.5 1036.8,2228.5 1039.1,2223.8 1040.5,2223.3 1041.2,2225.3 1042.9,2231.4 1043.8,2234.8 1044.9,2234.1 1047.3,2236.9 1047.8,2236.6 1049.3,2232.0 1051.1,2228.3 1052.8,2223.1 1053.0,2223.1 1054.8,2217.7 1056.2,2214.7 1056.8,2214.6 1059.1,2217.2 1059.5,2218.3 1061.2,2222.3 1062.8,2224.3 1063.1,2222.9 1065.0,2219.7 1066.8,2214.3 1067.8,2211.7 1068.8,2209.1 1071.0,2206.7 1071.8,2205.5 1073.1,2208.8 1075.2,2211.1 1076.1,2213.2 1077.4,2215.3 1079.4,2214.5 1079.8,2214.3 1081.9,2211.4 1083.9,2208.4 1084.4,2206.3 1086.0,2203.0 1088.0,2198.3 1089.4,2196.8 1090.0,2194.5 1092.2,2191.6 1094.3,2190.1 1094.4,2189.8 1096.8,2189.6 1099.3,2187.5 1099.4,2188.4 1101.8,2186.3 1104.3,2186.3 1105.1,2187.3 1106.5,2183.5 1108.6,2180.6 1109.4,2180.0 1110.8,2178.7 1112.7,2175.6 1113.0,2174.6 1115.6,2175.1 1117.7,2175.7 1118.2,2175.2 1120.6,2175.2 1122.7,2177.4 1123.1,2177.1 1125.4,2176.6 1127.7,2174.3 1127.8,2175.2 1130.3,2174.1 1132.7,2175.1 1132.9,2174.1 1135.3,2173.3 1137.7,2173.0 1137.8,2174.6 1140.4,2174.5 1143.0,2172.3 1145.6,2172.7 1147.6,2173.0 1148.2,2172.8 1150.7,2173.4 1152.6,2174.0 1153.2,2172.9 1155.7,2173.3 1157.6,2172.8 1158.2,2172.8 1160.7,2174.4 1163.2,2174.2 1165.7,2173.7 1165.9,2175.1 1167.3,2169.4 1168.6,2162.9 1169.0,2161.1 1171.1,2159.0 1171.6,2158.2 1173.2,2160.8 1174.9,2163.6 1175.3,2164.6 1177.1,2170.3 1178.2,2172.7 1179.1,2172.8 1181.4,2172.1 1182.6,2170.1 1183.8,2168.3 1185.9,2168.4 1186.2,2169.5 1188.7,2167.7 1190.9,2170.0 1191.1,2168.5 1193.4,2168.1 1194.9,2166.0 1195.7,2164.6 1198.1,2163.3 1198.2,2164.4 1200.4,2166.2 1202.5,2168.4 1202.7,2168.1 1204.8,2171.1 1205.9,2173.6 1206.7,2176.5 1208.4,2182.1 1209.2,2184.8 1210.4,2187.0 1212.5,2189.3 1212.5,2190.4 1214.9,2187.3 1216.8,2186.8 1217.3,2187.1 1219.8,2188.5 1222.3,2189.1 1222.5,2188.5 1224.8,2190.1 1227.3,2191.2 1227.5,2189.9 1229.7,2189.0 1232.2,2188.6 1234.1,2187.4 1234.6,2186.4 1236.8,2183.9 1239.0,2180.5 1239.1,2181.7 1241.5,2183.8 1244.0,2182.7 1244.1,2182.8 1246.4,2180.9 1248.8,2180.3 1250.1,2179.6 1251.2,2182.0 1253.5,2180.7 1254.1,2182.3 1255.9,2182.5 1258.2,2185.7 1259.1,2186.1 1260.6,2183.8 1263.0,2182.0 1263.4,2183.1 1265.1,2180.5 1266.4,2178.6 1267.0,2179.9 1268.6,2186.9 1269.1,2189.5 1270.7,2190.0 1273.1,2191.6 1274.0,2193.3 1275.5,2194.1 1277.9,2194.1 1280.3,2195.2 1280.7,2196.2 1282.7,2196.4 1285.1,2199.5 1287.4,2199.6 1287.6,2200.0 1290.0,2202.1 1292.4,2202.2 1294.0,2202.8 1294.8,2203.9 1297.2,2202.8 1297.3,2201.3 1298.0,2201.5 1299.8,2203.0 1302.4,2201.4 1303.0,2201.1 1304.8,2201.3 1306.3,2204.2 1307.0,2202.9 1309.0,2197.6 1309.6,2196.5 1310.8,2192.4 1312.0,2187.9 1312.6,2188.5 1314.7,2184.4 1316.3,2181.2 1316.8,2179.3 1318.9,2177.1 1321.0,2173.3 1321.3,2173.4 1322.9,2170.1 1324.6,2165.9 1324.9,2164.5 1327.2,2162.1 1328.6,2161.3 1329.1,2158.2 1330.5,2151.4 1331.3,2146.5 1332.0,2143.9 1333.7,2138.4 1333.9,2136.3 1335.8,2133.9 1337.3,2131.2 1338.0,2132.1 1340.4,2128.7 1342.9,2130.3 1342.9,2129.6 1345.4,2130.8 1347.9,2128.9 1349.6,2130.3 1350.4,2131.8 1352.8,2131.4 1355.1,2134.1 1356.2,2134.9 1357.5,2137.5 1359.7,2138.6 1362.0,2141.7 1362.9,2141.3 1364.2,2143.8 1366.5,2144.9 1368.8,2148.7 1369.5,2147.8 1371.1,2150.4 1373.4,2150.2 1375.7,2153.0 1376.2,2153.2 1378.2,2153.1 1380.6,2156.4 1382.8,2156.3 1383.0,2156.0 1385.4,2156.4 1387.8,2158.3 1390.3,2160.0 1391.1,2160.7 1392.8,2160.4 1395.3,2161.9 1396.1,2161.1 1397.6,2159.7 1399.5,2158.1 1399.9,2160.0 1402.1,2161.8 1402.8,2161.7 1404.0,2165.1 1405.6,2172.4 1406.1,2175.0 1407.7,2174.7 1410.2,2176.9 1411.1,2177.1 1412.6,2175.1 1415.1,2177.7 1416.1,2176.1 1417.7,2175.0 1420.2,2176.7 1421.1,2176.3 1422.6,2174.6 1424.8,2172.8 1426.1,2171.3 1426.8,2168.0 1428.3,2161.1 1429.4,2156.7 1430.1,2154.8 1432.2,2151.5 1432.7,2151.8 1434.2,2154.1 1436.1,2158.6 1436.2,2158.8 1437.7,2165.1 1437.8,2164.2 1440.0,2162.9 1441.7,2159.4 1442.0,2157.0 1443.1,2147.1 1444.2,2138.1 1444.4,2136.8 1446.2,2132.9 1447.7,2131.5 1448.4,2132.9 1450.9,2132.8 1451.0,2132.1 1452.8,2136.8 1453.7,2139.5 1454.8,2137.4 1457.0,2135.5 1457.7,2134.5 1459.1,2133.4 1460.3,2129.8 1461.2,2130.8 1463.5,2133.5 1463.7,2133.5 1465.4,2138.3 1467.0,2141.4 1467.3,2141.4 1469.6,2143.9 1470.3,2144.4 1471.6,2141.4 1473.5,2137.4 1473.6,2137.0 1475.8,2139.2 1477.6,2140.0 1478.0,2141.3 1479.7,2145.9 1481.0,2151.3 1481.5,2151.8 1483.7,2155.5 1485.8,2156.9 1486.0,2158.1 1488.3,2158.6 1490.9,2159.9 1492.6,2159.5 1493.4,2158.9 1495.7,2155.5 1497.6,2155.1 1498.0,2156.3 1500.3,2156.8 1502.6,2158.0 1502.7,2158.3 1504.7,2161.3 1506.7,2166.7 1508.2,2169.6 1508.8,2169.3 1511.4,2170.2 1514.0,2170.9 1514.2,2169.5 1516.4,2172.0 1518.9,2171.8 1519.2,2171.2 1521.4,2171.2 1523.8,2172.8 1524.2,2173.9 1526.2,2173.5 1528.6,2171.2 1529.2,2171.9 1530.6,2167.0 1532.4,2161.9 1532.5,2161.1 1534.5,2160.3 1535.9,2156.8 1536.7,2159.4 1538.9,2161.2 1539.2,2161.6 1541.0,2164.7 1542.5,2166.9 1543.1,2167.6 1545.2,2164.9 1547.4,2161.5 1547.5,2160.6 1549.7,2161.3 1552.0,2165.4 1552.5,2164.6 1554.4,2167.1 1556.8,2166.3 1556.8,2167.2 1558.7,2163.7 1560.7,2157.7 1560.8,2158.2 1563.0,2155.5 1563.5,2156.0 1565.2,2158.5 1567.2,2164.1 1567.5,2163.6 1569.2,2167.1 1570.8,2169.6 1571.3,2171.1 1573.3,2174.7 1574.8,2176.4 1575.4,2175.5 1577.4,2172.0 1578.1,2169.3 1579.2,2165.1 1580.8,2159.8 1580.9,2158.7 1583.4,2160.3 1585.8,2161.6 1585.8,2160.4 1588.3,2160.7 1590.7,2159.6 1590.8,2160.1 1593.0,2161.6 1595.3,2164.8 1595.7,2164.4 1597.1,2170.0 1598.8,2174.8 1599.1,2176.9 1600.7,2180.4 1602.4,2183.8 1602.7,2183.9 1604.9,2187.2 1607.1,2190.0 1607.4,2190.0 1609.4,2192.5 1611.7,2194.0 1612.4,2195.3 1613.9,2194.2 1615.7,2191.8 1616.2,2191.6 1618.5,2193.7 1620.7,2195.8 1620.8,2197.1 1623.2,2197.5 1625.5,2199.1 1625.7,2199.0" fill="none" stroke="#EB0000" stroke-width="5.6" stroke-linejoin="round" stroke-linecap="butt" shape-rendering="crispEdges"/>
<polyline points="310.7,2529.7 313.1,2528.5 315.5,2528.0 316.3,2527.2 317.8,2527.6 320.1,2529.6 322.0,2532.9 322.3,2532.1 324.6,2531.8 326.9,2529.5 328.0,2528.2 329.3,2527.3 331.6,2525.8 333.9,2522.5 334.6,2523.0 336.3,2521.2 338.8,2522.3 341.2,2518.4 341.3,2520.1 343.4,2516.3 345.7,2515.9 346.3,2514.6 347.5,2510.0 349.2,2505.1 349.6,2502.6 351.3,2499.4 351.9,2500.2 353.3,2503.2 354.6,2506.0 355.2,2508.8 357.4,2511.9 357.9,2511.0 359.4,2508.3 361.2,2504.4 361.4,2504.0 363.6,2502.2 365.2,2499.5 365.9,2500.6 368.4,2498.8 369.5,2500.1 370.9,2500.9 372.9,2499.0 373.4,2498.8 376.0,2499.3 377.9,2498.8 378.4,2499.1 380.7,2500.5 381.9,2503.4 382.9,2505.9 385.0,2509.1 385.2,2508.3 387.5,2507.3 390.0,2506.9 391.2,2507.3 392.6,2507.6 395.1,2505.4 397.7,2505.6 397.8,2506.3 400.1,2508.0 402.4,2510.5 402.8,2509.8 404.9,2507.6 407.4,2509.3 407.8,2508.0 409.7,2509.5 412.1,2510.1 412.8,2511.4 414.5,2512.1 416.9,2514.7 419.3,2514.1 421.1,2516.5 421.7,2515.4 424.2,2517.5 426.8,2515.6 429.3,2516.7 429.4,2517.3 431.8,2518.5 434.4,2517.2 436.1,2519.1 436.8,2518.5 439.3,2519.7 439.4,2520.4 441.7,2520.3 444.0,2517.3 444.4,2517.6 446.5,2515.6 449.1,2517.6 451.0,2515.6 451.5,2514.4 453.8,2514.1 456.0,2511.9 456.1,2509.8 458.5,2509.4 460.4,2509.4 460.9,2509.2 463.2,2511.2 464.4,2512.6 465.5,2512.4 467.8,2515.8 469.3,2516.9 470.3,2518.3 472.8,2517.3 475.3,2516.4 476.0,2517.9 477.8,2519.6 480.2,2520.6 481.0,2519.9 482.5,2521.2 484.3,2524.8 484.6,2524.4 486.9,2522.9 489.2,2519.8 489.3,2520.9 491.5,2523.9 493.7,2524.1 494.3,2525.5 495.9,2528.8 498.1,2529.9 499.3,2532.5 500.4,2531.6 502.6,2530.6 502.8,2530.7 504.8,2525.9 506.9,2522.5 506.9,2522.8 509.3,2522.3 511.7,2520.9 512.6,2519.4 514.1,2520.6 516.7,2518.5 519.2,2517.3 519.2,2518.0 521.7,2519.1 524.2,2517.1 525.9,2516.6 526.6,2517.4 529.1,2516.2 530.9,2514.0 531.5,2513.9 533.8,2516.0 536.2,2518.5 537.5,2518.4 538.6,2518.6 541.2,2518.3 543.7,2518.9 545.9,2520.0 546.2,2520.0 548.8,2518.4 551.3,2521.0 552.5,2520.8 553.8,2520.6 556.2,2519.5 558.2,2517.5 558.6,2517.4 561.0,2519.3 562.5,2519.0 563.3,2519.2 565.5,2522.9 565.8,2523.6 567.5,2521.3 568.5,2518.3 569.5,2516.7 571.7,2513.9 572.5,2512.1 573.8,2510.7 576.0,2508.3 577.5,2505.7 578.2,2504.4 580.5,2502.8 582.4,2501.3 582.9,2502.0 585.4,2499.8 587.9,2499.3 589.1,2500.3 590.5,2501.3 593.0,2501.9 595.6,2502.0 595.8,2501.9 598.0,2502.1 600.4,2502.2 600.7,2503.8 602.9,2503.0 605.4,2501.5 605.7,2502.6 607.9,2502.5 610.4,2502.9 610.7,2503.6 612.8,2503.9 615.2,2499.6 617.4,2499.7 617.6,2498.9 619.7,2495.8 621.9,2493.6 622.4,2492.9 624.2,2492.9 626.5,2489.8 627.4,2489.4 628.9,2487.4 631.4,2487.4 632.3,2487.3 633.8,2487.6 636.3,2484.5 637.3,2484.8 638.0,2486.6 638.5,2486.8 640.7,2482.7 641.3,2483.0 642.5,2478.7 644.2,2471.4 644.7,2469.8 645.8,2465.4 647.4,2459.6 648.0,2456.4 649.3,2454.3 651.3,2449.5 652.0,2448.9 653.4,2450.7 655.4,2454.8 656.3,2456.2 657.4,2458.0 659.5,2461.5 660.6,2464.4 661.6,2465.6 663.9,2466.8 666.2,2468.2 666.3,2469.9 668.5,2467.3 670.6,2466.8 670.7,2465.5 672.0,2456.2 672.9,2450.1 673.2,2447.8 674.4,2437.2 675.3,2429.3 675.7,2429.4 677.8,2426.4 678.6,2424.2 679.9,2426.6 682.1,2428.4 682.9,2429.8 683.9,2433.2 685.5,2440.0 686.2,2442.9 687.4,2440.8 689.5,2437.3 691.2,2435.0 691.6,2434.4 693.6,2438.3 695.6,2442.1 697.2,2446.2 697.7,2444.7 699.6,2439.0 701.2,2436.7 701.5,2437.0 703.7,2434.0 705.5,2430.6 705.9,2432.0 707.8,2435.3 709.5,2439.3 709.7,2441.1 711.5,2446.3 713.4,2450.0 713.8,2452.4 715.7,2449.7 718.1,2449.6 719.5,2449.2 720.5,2447.9 722.8,2446.1 723.8,2446.6 725.2,2444.7 727.2,2443.4 727.5,2443.3 729.6,2446.8 731.1,2450.0 731.8,2450.2 734.3,2449.4 736.1,2451.5 736.7,2452.0 738.9,2454.0 741.1,2456.4 741.2,2456.9 743.2,2461.3 745.2,2464.5 746.1,2466.4 747.1,2468.8 749.0,2473.9 749.4,2474.5 751.2,2476.1 753.5,2478.7 754.4,2479.8 755.8,2479.7 758.2,2483.0 759.4,2482.3 760.7,2483.3 763.2,2482.3 765.8,2482.8 766.1,2481.5 768.2,2479.9 770.6,2478.6 771.1,2478.7 772.8,2482.0 774.9,2485.4 776.1,2485.9 777.1,2485.6 779.5,2487.3 781.0,2489.2 781.9,2488.8 784.2,2490.2 786.0,2492.7 786.5,2492.4 788.7,2496.7 791.0,2499.2 791.0,2499.4 793.4,2499.2 795.8,2497.3 797.7,2496.0 798.2,2493.7 800.5,2492.3 802.7,2491.7 802.8,2491.1 805.0,2487.7 807.2,2486.7 808.3,2484.5 809.4,2486.0 811.6,2487.9 812.6,2489.3 813.7,2491.1 815.6,2497.1 816.0,2498.4 817.8,2500.6 820.2,2501.5 821.0,2501.7 822.6,2501.3 825.1,2502.0 826.0,2503.3 827.5,2504.4 829.8,2506.5 830.9,2506.4 832.1,2506.8 834.5,2509.2 836.9,2511.5 837.6,2511.6 839.3,2512.6 841.8,2512.1 842.6,2512.8 844.2,2512.9 846.6,2511.8 847.6,2509.5 849.0,2509.0 851.5,2511.3 852.6,2511.3 853.8,2509.6 856.1,2506.9 857.6,2506.1 858.4,2506.0 860.7,2502.7 863.0,2502.2 864.2,2501.7 865.4,2502.6 867.8,2502.3 870.3,2504.0 870.9,2504.2 872.7,2504.7 875.2,2503.6 875.9,2502.6 877.4,2500.9 879.6,2498.2 880.8,2496.3 881.9,2495.4 884.3,2494.2 886.8,2493.4 887.5,2494.1 889.4,2493.0 892.0,2493.6 894.6,2493.5 897.2,2492.5 897.5,2493.5 899.6,2494.0 901.9,2495.9 904.1,2497.8 904.3,2497.6 906.5,2501.6 908.8,2502.0 910.8,2504.4 911.1,2505.3 913.5,2506.0 915.8,2507.9 917.4,2509.0 918.2,2507.0 920.5,2506.8 922.4,2504.2 922.7,2503.4 924.9,2501.7 927.0,2499.0 927.4,2497.1 929.2,2494.5 931.6,2493.4 932.4,2492.7 933.9,2495.4 936.1,2495.8 937.4,2497.6 938.4,2499.0 940.8,2500.6 942.4,2501.3 943.2,2501.2 945.8,2502.8 947.4,2501.2 948.3,2503.4 950.5,2504.1 952.4,2506.2 952.8,2506.2 955.1,2509.1 957.4,2510.5 957.5,2509.3 959.9,2509.1 962.3,2508.6 962.3,2507.9 964.8,2507.9 967.3,2507.0 967.4,2507.5 968.0,2506.2 969.9,2505.9 972.4,2505.3 973.0,2507.4 974.8,2508.9 977.2,2508.9 978.0,2510.1 979.6,2512.2 981.9,2511.8 984.0,2515.0 984.1,2513.5 985.2,2503.2 986.3,2493.0 986.3,2492.9 987.6,2484.2 988.6,2478.2 989.1,2479.0 990.9,2484.7 991.3,2486.0 992.3,2492.2 993.7,2501.8 993.9,2502.9 995.2,2508.1 996.9,2514.9 997.3,2516.7 998.7,2518.5 999.6,2521.0 1001.1,2522.5 1003.7,2522.7 1004.6,2521.7 1006.1,2520.4 1008.5,2518.3 1009.6,2517.6 1010.8,2520.1 1013.2,2521.2 1014.6,2521.3 1015.5,2523.1 1017.8,2523.8 1019.6,2526.3 1020.1,2527.7 1022.6,2525.7 1025.1,2528.0 1026.2,2527.6 1027.6,2529.3 1030.2,2529.7 1032.7,2529.4 1032.9,2528.9 1035.2,2526.7 1037.7,2527.5 1039.5,2526.8 1040.1,2527.7 1042.1,2530.5 1042.8,2533.4 1044.1,2535.6 1046.1,2539.7 1046.2,2539.9 1048.5,2542.1 1050.9,2542.3 1051.2,2542.3 1053.5,2543.7 1056.0,2542.5 1056.2,2543.3 1058.4,2540.2 1060.8,2541.3 1061.1,2540.3 1063.2,2542.0 1065.6,2544.7 1066.1,2543.3 1068.1,2543.5 1070.7,2545.0 1073.2,2545.1 1075.8,2544.6 1076.1,2544.8 1078.2,2544.1 1080.6,2543.5 1082.8,2541.4 1083.0,2541.2 1085.2,2543.9 1087.4,2546.2 1087.8,2547.5 1089.6,2548.4 1091.9,2553.4 1094.1,2553.2 1094.4,2554.7 1096.5,2555.0 1098.8,2559.3 1101.1,2559.6 1101.1,2558.4 1103.7,2560.6 1106.3,2560.8 1107.7,2560.0 1108.8,2557.8 1111.1,2556.5 1112.7,2555.7 1113.4,2555.5 1115.7,2558.3 1118.1,2560.7 1119.4,2561.5 1120.4,2561.7 1122.8,2560.2 1125.2,2557.5 1127.6,2557.7 1127.7,2556.8 1130.1,2556.5 1132.6,2556.6 1135.1,2559.3 1137.6,2559.1 1137.7,2559.1 1140.2,2559.4 1142.8,2559.0 1145.4,2558.5 1147.9,2559.2 1149.3,2558.9 1150.4,2559.8 1152.7,2563.1 1154.3,2563.3 1155.0,2562.9 1157.4,2566.5 1159.3,2566.7 1159.7,2567.9 1162.0,2563.3 1164.3,2562.7 1164.3,2564.2 1166.8,2562.5 1169.3,2561.4 1169.3,2560.3 1171.8,2560.8 1174.2,2564.3 1174.2,2562.4 1175.4,2552.9 1175.9,2549.5 1176.2,2541.2 1176.6,2526.7 1176.9,2516.8 1177.0,2512.3 1177.4,2497.5 1177.9,2483.2 1178.2,2469.5 1178.3,2468.2 1178.5,2453.1 1178.8,2437.6 1179.1,2422.0 1179.4,2406.5 1179.6,2396.2 1179.7,2391.4 1180.2,2377.2 1180.7,2363.2 1180.9,2358.3 1182.3,2357.5 1182.6,2356.4 1184.1,2360.8 1184.9,2363.4 1185.1,2371.1 1185.6,2385.7 1185.9,2396.7 1186.0,2400.4 1186.3,2415.6 1186.6,2430.9 1186.9,2446.1 1186.9,2446.1 1187.9,2456.6 1188.9,2466.9 1189.2,2469.4 1189.6,2479.5 1190.2,2493.2 1190.8,2506.6 1190.9,2509.8 1191.7,2517.7 1192.8,2529.0 1193.8,2539.0 1194.2,2542.9 1195.5,2544.8 1197.5,2548.1 1199.2,2550.9 1199.6,2553.1 1201.7,2556.2 1202.5,2556.4 1203.8,2558.8 1205.9,2560.9 1207.5,2564.6 1208.1,2563.9 1210.4,2565.9 1212.8,2568.2 1214.2,2568.5 1215.2,2567.8 1217.8,2568.9 1219.2,2567.8 1220.1,2570.6 1222.1,2572.6 1223.5,2575.7 1224.1,2576.2 1226.1,2571.6 1227.5,2569.0 1228.3,2568.8 1230.8,2566.7 1233.3,2568.7 1234.1,2566.9 1235.8,2568.7 1238.3,2567.0 1240.8,2568.1 1240.8,2568.9 1243.3,2567.8 1245.9,2569.7 1248.5,2567.5 1251.1,2566.7 1253.6,2566.8 1254.1,2567.6 1256.2,2569.0 1258.7,2568.4 1260.7,2567.0 1261.2,2567.3 1263.3,2569.5 1265.4,2574.9 1265.7,2574.1 1267.8,2574.1 1270.4,2575.4 1272.4,2576.5 1272.8,2576.0 1274.8,2579.4 1275.7,2582.6 1277.1,2580.3 1279.7,2582.3 1282.2,2579.9 1284.7,2579.9 1287.3,2579.2 1287.4,2580.1 1289.9,2581.6 1292.5,2581.3 1295.1,2580.3 1297.3,2579.7 1297.6,2579.7 1298.0,2581.0 1300.0,2582.8 1302.5,2584.1 1304.7,2583.0 1305.0,2582.9 1307.5,2584.4 1310.0,2581.3 1311.3,2581.7 1312.5,2581.6 1315.1,2584.2 1317.6,2582.6 1318.0,2583.7 1320.1,2581.5 1322.6,2582.5 1322.9,2581.5 1324.9,2583.6 1327.3,2585.8 1329.6,2588.0 1329.6,2586.7 1332.1,2589.1 1334.6,2588.0 1336.3,2589.3 1337.0,2590.7 1339.3,2592.8 1341.2,2592.4 1341.7,2592.0 1344.2,2592.7 1346.7,2592.7 1347.9,2590.9 1349.2,2591.9 1351.8,2590.6 1354.3,2588.7 1356.2,2589.7 1356.8,2589.2 1359.1,2591.8 1361.2,2594.9 1361.4,2595.1 1364.0,2595.9 1366.6,2596.3 1369.1,2594.7 1369.5,2595.3 1371.6,2594.9 1374.1,2594.2 1374.5,2593.1 1376.5,2595.8 1378.9,2594.7 1379.5,2596.1 1381.5,2596.9 1384.0,2597.3 1386.6,2597.8 1387.8,2596.6 1389.2,2596.0 1391.7,2597.2 1394.3,2594.6 1394.5,2596.5 1396.7,2597.0 1399.0,2598.8 1399.5,2599.3 1401.5,2599.6 1404.0,2597.2 1406.1,2597.4 1406.5,2596.3 1409.1,2596.2 1411.6,2597.5 1414.2,2598.5 1414.4,2596.3 1416.6,2598.1 1419.0,2599.2 1421.3,2600.6 1422.7,2602.0 1423.8,2600.6 1426.3,2601.0 1428.8,2599.9 1431.1,2599.7 1431.3,2598.9 1433.9,2601.6 1436.5,2600.9 1439.1,2601.8 1441.0,2600.4 1441.7,2601.1 1444.1,2600.2 1446.6,2600.6 1449.1,2604.3 1449.4,2603.0 1451.4,2601.4 1452.7,2599.1 1453.7,2601.3 1455.9,2602.8 1457.7,2604.0 1458.2,2603.4 1460.8,2605.5 1463.3,2603.9 1465.8,2601.7 1467.7,2602.4 1468.4,2603.6 1471.0,2602.3 1473.6,2602.7 1476.2,2601.5 1477.6,2602.5 1478.8,2602.6 1481.3,2601.9 1483.8,2600.7 1486.4,2600.2 1487.6,2601.1 1488.8,2600.7 1491.2,2602.1 1493.6,2604.9 1494.3,2605.0 1496.1,2606.2 1498.7,2606.4 1501.3,2606.1 1503.9,2607.0 1504.2,2605.1 1506.5,2605.2 1509.1,2605.2 1511.7,2604.0 1514.2,2605.8 1514.3,2603.9 1516.9,2606.8 1519.4,2605.5 1522.0,2606.3 1524.2,2604.0 1524.6,2605.8 1527.2,2606.0 1529.8,2605.4 1532.4,2604.7 1534.2,2604.6 1535.0,2604.4 1537.6,2605.6 1540.2,2604.7 1542.5,2604.5 1542.7,2604.3 1545.1,2606.5 1547.5,2607.9 1549.2,2609.2 1549.9,2609.5 1552.4,2607.4 1554.9,2608.1 1557.4,2605.9 1557.5,2606.8 1560.0,2606.9 1562.6,2607.5 1565.2,2605.3 1567.5,2606.4 1567.7,2605.5 1569.9,2603.5 1570.1,2602.4 1571.2,2595.0 1572.4,2586.5 1572.5,2585.8 1573.4,2574.6 1574.4,2564.1 1574.8,2559.4 1575.4,2553.3 1576.4,2542.5 1576.8,2539.8 1578.4,2538.0 1579.1,2538.4 1580.0,2543.5 1580.8,2548.1 1581.0,2541.5 1581.4,2527.2 1581.8,2515.8 1581.9,2512.6 1582.2,2497.4 1582.6,2482.9 1583.0,2468.0 1583.1,2462.8 1583.3,2452.5 1583.5,2436.6 1583.7,2420.9 1584.0,2405.2 1584.1,2396.5 1584.3,2389.8 1584.6,2375.0 1585.0,2359.8 1585.1,2356.8 1586.6,2353.6 1586.8,2353.0 1587.3,2364.7 1587.9,2378.2 1588.1,2382.9 1588.3,2392.3 1588.7,2407.5 1589.1,2422.0 1589.4,2436.9 1589.4,2436.8 1589.9,2451.1 1590.4,2465.4 1590.7,2475.9 1590.9,2479.1 1591.7,2491.6 1592.4,2502.9 1592.5,2502.9 1593.6,2512.2 1594.8,2523.0 1595.7,2529.2 1596.1,2531.7 1597.5,2539.4 1599.0,2546.4 1600.4,2554.6 1600.7,2556.4 1602.1,2560.1 1603.8,2565.9 1605.5,2573.2 1605.7,2572.5 1607.5,2576.4 1609.5,2580.3 1610.7,2583.1 1611.5,2585.5 1613.4,2589.8 1615.3,2594.0 1615.7,2594.5 1617.7,2593.8 1620.2,2596.2 1620.7,2596.1 1622.7,2596.3 1625.1,2594.2 1625.7,2594.1" fill="none" stroke="#2A6096" stroke-width="5.6" stroke-linejoin="round" stroke-linecap="butt" shape-rendering="crispEdges"/>
<polyline points="310.7,2561.3 313.1,2560.1 315.6,2560.1 318.0,2559.1 318.1,2559.6 320.6,2557.6 323.1,2556.9 325.5,2556.0 326.3,2556.2 328.0,2556.2 330.5,2554.4 333.0,2554.3 334.6,2553.5 335.5,2552.9 337.9,2552.0 340.3,2551.5 342.7,2550.0 342.9,2549.4 345.1,2547.7 347.4,2545.8 349.6,2544.9 349.7,2545.0 352.0,2542.8 354.3,2540.5 356.2,2538.2 356.5,2538.5 358.8,2536.0 361.0,2532.9 361.2,2533.3 363.4,2531.4 365.7,2530.1 367.9,2528.1 368.1,2527.8 370.4,2526.0 372.7,2524.3 374.5,2523.0 375.1,2522.0 377.4,2521.3 379.5,2519.3 379.7,2519.8 382.2,2518.4 384.5,2517.1 384.6,2517.6 387.2,2516.9 389.7,2518.2 391.2,2518.1 392.2,2517.8 394.7,2518.6 397.2,2519.8 399.5,2520.3 399.7,2520.3 402.2,2519.7 404.7,2518.4 406.1,2517.9 407.1,2517.6 409.5,2516.0 411.9,2514.7 412.8,2514.6 414.3,2513.5 416.7,2511.5 419.1,2510.9 419.4,2510.7 421.5,2509.5 424.0,2509.2 426.1,2508.3 426.5,2507.3 429.0,2507.1 431.6,2508.0 434.1,2507.7 434.4,2507.2 436.7,2506.1 439.2,2506.0 441.1,2506.0 441.7,2506.4 444.3,2505.8 446.8,2504.4 447.7,2505.0 449.4,2504.7 451.9,2505.5 454.5,2504.7 456.0,2505.7 457.0,2505.4 459.5,2505.0 462.1,2503.4 462.7,2503.9 464.6,2504.4 467.1,2505.0 469.6,2505.2 471.0,2505.9 472.0,2506.1 474.4,2507.5 476.8,2508.7 477.7,2509.9 479.3,2508.9 481.8,2508.7 482.6,2508.9 484.4,2509.1 486.9,2508.6 489.3,2508.1 489.5,2507.3 492.0,2507.3 494.5,2506.5 496.0,2506.2 497.0,2505.6 499.6,2507.5 502.2,2506.1 504.8,2506.6 507.3,2506.7 507.6,2507.2 509.9,2506.4 512.5,2507.1 515.1,2506.9 517.7,2507.7 520.3,2506.2 522.9,2506.8 524.2,2507.1 525.5,2507.9 528.1,2507.0 530.7,2506.7 533.3,2507.0 535.8,2506.2 537.5,2506.2 538.4,2506.6 540.9,2507.7 543.5,2507.9 546.0,2507.4 547.5,2508.2 548.6,2508.9 551.1,2508.3 553.6,2509.3 556.2,2509.3 557.5,2509.6 558.7,2509.6 561.2,2509.9 563.8,2510.6 566.3,2510.4 567.5,2511.4 568.8,2511.1 571.3,2512.9 573.8,2513.2 574.1,2512.8 576.3,2512.8 578.8,2511.0 579.1,2511.4 581.0,2509.0 583.2,2505.8 584.1,2504.7 585.5,2504.4 588.1,2503.4 589.1,2504.0 590.5,2504.1 592.9,2506.8 594.1,2507.0 595.3,2507.3 597.7,2508.4 600.2,2508.8 600.7,2509.6 602.7,2509.5 605.3,2509.7 607.4,2510.0 607.9,2510.3 610.3,2507.3 612.7,2506.7 614.0,2505.6 615.0,2505.6 617.4,2503.3 619.8,2502.7 620.7,2501.5 622.2,2500.3 624.7,2499.2 627.2,2498.8 627.4,2499.3 629.7,2498.1 632.2,2498.1 632.3,2498.1 634.6,2496.4 636.9,2495.6 637.3,2494.7 638.0,2498.0 638.9,2497.3 641.2,2495.4 643.4,2492.5 644.7,2491.5 645.7,2490.4 648.0,2488.8 650.4,2487.2 651.3,2486.5 652.7,2485.9 655.1,2482.8 657.4,2481.1 658.0,2481.3 659.8,2480.6 662.1,2478.6 664.5,2476.7 664.6,2477.2 667.0,2475.9 669.5,2474.9 672.0,2474.1 672.9,2474.4 674.5,2475.2 677.1,2474.4 679.6,2475.8 681.2,2475.8 682.2,2476.3 684.7,2475.5 687.2,2474.3 689.6,2474.0 689.7,2474.6 692.2,2475.1 694.7,2475.0 697.2,2476.6 697.9,2476.1 699.7,2476.5 702.2,2478.5 704.7,2478.4 706.2,2478.8 707.2,2479.6 709.7,2479.4 712.2,2479.0 714.5,2480.0 714.8,2480.0 717.2,2481.3 719.6,2483.6 721.2,2483.5 722.0,2483.8 724.5,2482.7 726.2,2481.2 726.9,2481.8 729.3,2480.2 731.1,2478.9 731.7,2479.1 734.0,2481.5 736.1,2483.8 736.3,2483.8 738.6,2485.4 740.8,2487.7 743.1,2490.0 744.5,2491.1 745.5,2491.9 747.9,2492.3 750.3,2494.8 752.7,2495.0 752.8,2495.4 755.3,2495.5 757.8,2494.7 760.4,2495.5 762.7,2494.6 762.9,2494.6 765.5,2494.6 768.0,2493.0 770.5,2493.5 771.1,2493.0 773.1,2492.7 775.7,2493.4 778.2,2491.6 780.8,2492.9 781.0,2492.1 783.3,2492.1 785.8,2490.2 788.3,2489.2 789.4,2489.6 790.7,2489.8 793.2,2487.7 795.6,2487.1 796.0,2487.0 798.2,2486.2 800.7,2486.4 801.0,2486.0 803.1,2487.6 805.5,2489.7 806.0,2489.5 807.6,2491.9 809.7,2495.1 811.0,2498.0 811.8,2498.5 814.2,2501.1 816.5,2502.7 818.8,2503.5 819.3,2504.8 821.2,2506.4 823.6,2507.7 826.0,2509.1 827.6,2509.7 828.3,2510.4 830.7,2512.1 833.0,2513.7 835.4,2514.8 837.6,2516.7 837.7,2517.3 840.2,2517.7 842.7,2517.4 845.2,2519.0 847.7,2519.6 850.2,2520.1 850.9,2520.4 852.7,2521.4 855.2,2521.4 857.7,2522.9 860.2,2523.2 862.6,2524.1 864.2,2524.5 865.2,2525.3 867.8,2524.4 870.4,2525.3 873.0,2524.2 875.6,2524.8 877.5,2524.7 878.2,2524.9 880.7,2524.6 883.3,2524.4 885.8,2525.3 887.5,2525.5 888.4,2526.4 890.8,2527.2 893.3,2528.4 895.8,2528.3 898.3,2529.1 899.1,2529.6 900.7,2530.7 903.1,2530.9 905.5,2532.3 907.9,2533.4 910.3,2535.0 910.8,2535.4 912.9,2536.5 915.4,2535.5 918.0,2537.0 920.6,2536.1 923.1,2536.2 924.1,2537.1 925.7,2536.3 928.2,2536.8 930.8,2537.2 933.3,2537.5 935.9,2538.4 937.4,2538.7 938.4,2538.4 940.9,2538.5 943.5,2540.0 946.0,2539.2 948.6,2539.9 951.1,2540.9 953.7,2541.8 954.0,2541.2 956.3,2541.5 958.9,2541.5 961.5,2541.7 964.1,2541.8 966.7,2540.5 967.3,2540.9 968.0,2541.3 969.2,2541.2 971.8,2541.0 974.4,2541.3 977.0,2540.0 979.5,2540.7 981.3,2540.2 982.1,2540.3 984.6,2540.5 987.1,2541.0 989.7,2542.0 992.2,2542.5 994.6,2543.1 994.7,2542.5 997.3,2543.2 999.9,2541.9 1002.4,2542.8 1005.0,2541.8 1007.6,2542.9 1007.9,2542.5 1010.2,2542.0 1012.8,2543.1 1015.3,2542.2 1017.9,2542.8 1017.9,2542.2 1020.3,2541.6 1022.7,2539.8 1024.6,2539.7 1025.1,2539.1 1027.4,2536.6 1029.6,2534.8 1031.2,2532.8 1031.8,2531.6 1033.9,2528.0 1036.0,2523.9 1037.9,2521.5 1038.0,2520.4 1039.9,2515.9 1041.9,2512.3 1042.8,2509.8 1043.8,2507.6 1045.8,2503.6 1047.8,2499.2 1047.8,2499.4 1050.1,2497.7 1052.4,2495.3 1054.5,2493.8 1054.8,2494.7 1057.3,2492.9 1059.9,2493.2 1062.5,2493.7 1064.5,2493.1 1064.9,2492.9 1067.2,2496.1 1069.5,2498.0 1069.5,2498.2 1071.6,2501.6 1073.8,2504.2 1074.5,2504.7 1076.0,2506.7 1078.3,2508.5 1080.6,2510.8 1081.1,2511.5 1083.0,2511.3 1085.6,2510.5 1088.1,2509.6 1089.4,2510.5 1090.7,2510.4 1093.2,2511.3 1095.6,2511.8 1096.1,2512.3 1098.1,2511.1 1100.5,2510.5 1101.1,2509.7 1102.9,2510.5 1105.4,2511.8 1107.7,2512.3 1107.8,2512.4 1110.2,2514.4 1112.5,2516.0 1114.4,2517.1 1114.9,2517.8 1117.4,2518.2 1119.8,2519.2 1121.0,2519.4 1122.2,2519.8 1124.7,2521.3 1127.1,2522.6 1127.7,2523.2 1129.6,2521.8 1132.1,2521.9 1134.7,2522.2 1137.2,2521.3 1137.7,2521.5 1139.8,2520.7 1142.4,2521.8 1145.0,2521.2 1147.6,2521.4 1147.6,2521.0 1150.1,2521.4 1152.7,2522.3 1155.3,2522.5 1157.6,2522.3 1157.8,2522.0 1160.2,2519.9 1162.6,2519.4 1164.3,2517.9 1164.9,2517.4 1167.0,2514.1 1169.1,2510.6 1170.9,2508.2 1171.2,2506.9 1173.3,2504.5 1175.3,2499.7 1177.4,2497.3 1177.6,2496.4 1179.4,2492.6 1181.4,2489.3 1183.4,2484.7 1184.2,2483.0 1185.4,2480.3 1187.5,2477.7 1189.5,2473.9 1190.9,2471.2 1191.7,2470.1 1194.0,2468.6 1196.3,2467.5 1197.5,2465.9 1198.7,2465.1 1201.1,2463.1 1202.5,2463.2 1203.6,2462.5 1206.2,2463.5 1208.8,2463.1 1210.8,2463.3 1211.3,2462.2 1213.7,2462.2 1216.2,2460.9 1218.6,2458.5 1219.2,2459.1 1221.1,2459.0 1223.6,2460.1 1226.2,2461.0 1227.5,2460.5 1228.7,2460.9 1231.1,2462.0 1233.6,2462.4 1234.1,2463.0 1236.0,2463.7 1238.1,2465.8 1238.3,2464.8 1240.6,2463.3 1242.4,2461.2 1242.9,2461.2 1245.2,2458.6 1247.5,2456.8 1249.1,2456.5 1249.9,2456.6 1252.5,2456.4 1255.0,2455.5 1257.4,2455.0 1257.5,2454.2 1260.0,2455.9 1262.4,2456.7 1264.1,2456.9 1264.9,2456.9 1267.3,2458.4 1269.7,2460.2 1270.7,2460.9 1272.2,2461.0 1274.8,2460.7 1277.4,2459.6 1277.4,2460.5 1279.8,2459.6 1282.3,2458.1 1284.0,2458.1 1284.8,2457.3 1287.2,2456.2 1289.6,2455.2 1290.7,2454.9 1291.9,2452.9 1294.2,2451.2 1296.4,2448.6 1297.3,2448.2 1298.0,2449.3 1298.8,2448.6 1301.3,2449.2 1303.9,2448.4 1306.4,2447.7 1308.0,2448.0 1308.9,2448.9 1311.2,2451.2 1313.5,2452.7 1315.9,2453.6 1316.3,2454.9 1318.4,2454.5 1320.9,2453.7 1321.3,2453.6 1323.4,2454.3 1325.9,2455.5 1327.9,2455.6 1328.4,2455.1 1331.0,2456.3 1333.5,2455.5 1336.1,2454.8 1338.7,2456.2 1341.2,2455.2 1341.3,2455.2 1343.8,2456.6 1346.2,2457.7 1347.9,2458.3 1348.6,2457.0 1351.0,2456.1 1352.9,2455.0 1353.4,2454.8 1355.9,2455.7 1358.5,2455.8 1361.0,2456.7 1361.2,2456.7 1363.4,2457.2 1365.8,2459.0 1368.3,2459.5 1369.5,2460.6 1370.7,2461.6 1373.0,2463.3 1375.4,2464.8 1376.2,2464.8 1377.9,2465.8 1380.4,2464.8 1382.8,2465.8 1383.0,2464.9 1385.4,2464.6 1387.8,2463.6 1389.5,2462.3 1390.2,2462.3 1392.5,2459.8 1394.8,2457.6 1396.1,2456.9 1397.3,2457.1 1399.8,2456.4 1401.1,2456.2 1402.3,2456.7 1404.7,2459.1 1406.1,2459.1 1407.1,2459.2 1409.7,2458.2 1411.1,2457.8 1412.1,2459.2 1414.3,2460.9 1416.6,2463.0 1417.8,2464.8 1419.0,2464.9 1421.5,2463.3 1424.1,2464.6 1424.4,2463.5 1426.5,2462.2 1429.0,2461.3 1429.4,2461.6 1431.3,2460.5 1433.7,2458.9 1434.4,2458.0 1436.2,2458.8 1438.8,2457.4 1441.0,2458.3 1441.4,2457.5 1443.8,2458.8 1446.0,2460.5 1446.3,2461.0 1448.6,2462.9 1450.9,2464.2 1451.0,2464.9 1453.2,2466.4 1455.5,2467.6 1457.7,2469.5 1457.9,2470.6 1460.5,2468.7 1463.0,2468.9 1465.6,2468.9 1467.7,2469.3 1468.1,2469.9 1470.5,2471.3 1472.9,2472.4 1474.3,2472.8 1475.3,2472.7 1477.6,2470.1 1480.0,2469.5 1481.0,2468.3 1482.2,2465.8 1484.4,2464.1 1486.6,2460.6 1487.6,2459.5 1488.8,2458.9 1491.0,2455.5 1493.2,2452.5 1494.3,2451.5 1495.3,2449.0 1497.3,2445.9 1499.4,2442.7 1500.9,2440.0 1501.4,2438.0 1503.3,2434.1 1505.1,2428.1 1505.9,2426.3 1506.9,2423.2 1508.7,2417.6 1509.2,2416.3 1510.8,2414.4 1512.6,2411.4 1512.9,2410.7 1515.2,2408.9 1515.9,2408.0 1517.3,2410.6 1519.2,2413.4 1519.4,2413.5 1521.5,2417.4 1523.5,2421.2 1523.5,2421.4 1525.7,2424.0 1527.5,2426.3 1527.8,2426.8 1529.8,2431.3 1531.8,2435.0 1532.5,2436.2 1533.9,2437.8 1536.1,2441.7 1537.5,2443.0 1538.3,2444.1 1540.7,2445.2 1543.1,2446.7 1544.2,2447.0 1545.5,2446.8 1548.0,2445.6 1550.5,2444.9 1550.8,2445.0 1553.0,2443.6 1555.5,2443.3 1555.8,2444.0 1558.1,2444.7 1560.7,2444.6 1561.5,2444.3 1563.0,2445.5 1565.1,2449.2 1565.8,2449.6 1567.3,2452.3 1569.5,2454.5 1570.8,2456.4 1571.7,2457.1 1574.1,2458.4 1576.4,2460.7 1577.4,2461.6 1578.8,2462.0 1581.2,2463.2 1583.6,2464.3 1584.1,2464.6 1586.1,2464.7 1588.7,2466.0 1590.7,2466.0 1591.2,2465.6 1593.8,2465.8 1596.3,2466.3 1598.8,2467.7 1599.1,2466.9 1601.2,2468.2 1603.5,2470.3 1605.7,2472.2 1605.8,2471.8 1608.4,2472.2 1610.9,2473.2 1612.4,2473.3 1613.5,2472.3 1616.0,2471.8 1618.5,2471.7 1619.0,2471.1 1620.9,2469.5 1623.3,2468.7 1625.6,2467.0 1625.7,2467.0" fill="none" stroke="#FEC00E" stroke-width="5.6" stroke-linejoin="round" stroke-linecap="butt" shape-rendering="crispEdges"/>
</g>
<g stroke="#000" stroke-width="3.9" fill="none" stroke-linecap="butt">
<path d="M308.2 1569.8 V2658.6"/>
<path d="M1628.0 1569.8 V2658.6"/>
<path d="M285.9 1571.7 H1631.5"/>
<path d="M308.2 2638.3 H1631.5"/>
<path d="M285.9 2541.3 H308.2"/>
<path d="M285.9 2347.4 H308.2"/>
<path d="M285.9 2153.5 H308.2"/>
<path d="M285.9 1959.6 H308.2"/>
<path d="M285.9 1765.6 H308.2"/>
<path d="M296.9 2638.3 H308.2"/>
<path d="M296.9 2444.4 H308.2"/>
<path d="M296.9 2250.4 H308.2"/>
<path d="M296.9 2056.5 H308.2"/>
<path d="M296.9 1862.6 H308.2"/>
<path d="M296.9 1668.7 H308.2"/>
<path d="M572.2 2638.3 V2658.6"/>
<path d="M836.1 2638.3 V2658.6"/>
<path d="M1100.1 2638.3 V2658.6"/>
<path d="M1364.0 2638.3 V2658.6"/>
<path d="M440.2 2638.3 V2649.7"/>
<path d="M704.1 2638.3 V2649.7"/>
<path d="M968.1 2638.3 V2649.7"/>
<path d="M1232.1 2638.3 V2649.7"/>
<path d="M1496.0 2638.3 V2649.7"/>
</g>
<g font-size="69.3">
<text transform="translate(270.6 2561.5) scale(1 1)" text-anchor="end">200</text>
<text transform="translate(270.6 2367.6) scale(1 1)" text-anchor="end">400</text>
<text transform="translate(270.6 2173.7) scale(1 1)" text-anchor="end">600</text>
<text transform="translate(270.6 1979.8) scale(1 1)" text-anchor="end">800</text>
<text transform="translate(270.6 1785.8) scale(1 1)" text-anchor="end">1000</text>
<text transform="translate(270.6 1591.9) scale(1 1)" text-anchor="end">1200</text>
<text transform="translate(308.2 2727.7) scale(1 1)" text-anchor="middle">0</text>
<text transform="translate(572.2 2727.7) scale(1 1)" text-anchor="middle">1500</text>
<text transform="translate(836.1 2727.7) scale(1 1)" text-anchor="middle">3000</text>
<text transform="translate(1100.1 2727.7) scale(1 1)" text-anchor="middle">4500</text>
<text transform="translate(1364.0 2727.7) scale(1 1)" text-anchor="middle">6000</text>
<text transform="translate(1628.0 2727.7) scale(1 1)" text-anchor="middle">7500</text>
<text transform="translate(992.7 2827.3) scale(1 1)" text-anchor="middle">Reaction times (s)</text>
<text transform="translate(77.8 2528.3) rotate(-90) scale(1 1)" font-size="69.00" x="0" y="0">SO<tspan font-size="45.5" dy="14.5">2</tspan><tspan dy="-14.5"> </tspan>emission (mg/Nm<tspan font-size="45.5" dy="-21.5" dx="1.5">3</tspan><tspan dy="21.5" dx="3.5">)</tspan></text>
</g>
<g stroke-width="5.8" fill="none" stroke-linecap="round">
<path d="M339.3 1681.8 H461.7" stroke="#EB0000"/>
<path d="M339.3 1750.2 H461.7" stroke="#2A6096"/>
<path d="M339.3 1818.8 H461.7" stroke="#FEC00E"/>
</g>
<g font-size="55.2">
<text transform="translate(477.0 1699.4) scale(1 1)">Raw coal</text>
<text transform="translate(477.0 1767.8) scale(1 1)">Briquette</text>
<text transform="translate(477.0 1836.4) scale(1 1)">Semi-coke</text>
</g>
<text class="lab" x="859.7" y="2951.9" text-anchor="middle" font-size="85" letter-spacing="0.6">(<tspan font-weight="bold">b</tspan>)</text>
</g>
<g id="chart3">
<clipPath id="cp2"><rect x="279.2" y="3058.6" width="1310.4" height="1058.0"/></clipPath>
<g clip-path="url(#cp2)">
<polyline points="281.7,3874.7 284.1,3872.3 286.4,3872.5 287.3,3871.5 288.8,3870.0 291.0,3867.1 291.6,3867.7 293.2,3870.7 295.3,3873.2 296.3,3874.7 297.4,3872.3 299.5,3868.4 300.6,3867.9 301.4,3865.4 303.1,3858.3 303.9,3856.7 305.0,3853.6 307.0,3849.6 308.9,3846.0 309.0,3847.8 311.2,3844.1 313.3,3841.6 313.9,3839.9 315.6,3839.7 318.0,3842.4 318.3,3843.1 320.1,3839.0 322.2,3837.9 322.2,3836.3 324.3,3832.7 326.5,3831.7 327.2,3829.4 328.9,3830.7 331.3,3828.3 332.2,3828.2 333.7,3826.5 336.0,3825.1 337.2,3823.8 338.3,3823.7 340.6,3828.2 343.0,3828.2 343.9,3830.1 345.1,3826.6 347.1,3824.6 348.9,3820.2 349.1,3820.3 351.4,3818.1 353.6,3815.3 353.8,3815.1 356.0,3812.3 358.3,3811.8 358.8,3811.9 360.8,3810.1 363.4,3812.0 363.8,3810.9 365.7,3808.5 368.0,3806.3 368.8,3805.8 370.4,3805.4 373.0,3807.3 373.8,3805.4 375.4,3805.3 377.8,3807.2 378.8,3809.4 380.1,3810.1 382.6,3807.3 385.0,3806.1 385.5,3805.9 387.4,3805.4 389.7,3802.2 392.1,3801.9 392.1,3801.6 394.5,3800.8 397.0,3798.3 397.1,3798.9 399.2,3801.0 401.4,3804.3 401.4,3803.4 403.8,3802.5 406.1,3799.9 407.1,3799.5 408.5,3797.6 410.9,3798.3 412.1,3796.8 413.3,3796.1 415.9,3797.2 418.5,3797.2 418.7,3797.0 420.8,3795.3 422.7,3791.5 423.0,3793.3 425.2,3795.7 427.0,3796.6 427.4,3798.0 429.8,3798.0 432.0,3799.1 432.2,3799.1 433.9,3806.2 435.4,3809.5 435.8,3809.0 438.1,3813.5 440.3,3815.6 440.3,3814.8 442.6,3818.1 444.8,3818.0 445.3,3819.6 447.2,3818.3 449.7,3817.6 450.3,3817.2 452.1,3816.6 454.6,3818.1 457.0,3819.6 457.2,3820.8 459.7,3819.9 462.3,3818.8 463.6,3818.6 464.9,3820.7 467.3,3820.2 468.6,3820.7 469.7,3818.1 472.0,3816.5 472.9,3816.9 473.4,3823.6 474.3,3835.4 475.2,3846.7 476.0,3858.1 476.6,3866.4 477.0,3869.6 477.9,3876.1 478.2,3874.1 479.2,3863.3 479.6,3859.9 480.2,3852.6 481.3,3843.1 481.6,3840.1 482.6,3833.1 483.9,3825.9 484.9,3819.9 485.3,3817.9 486.5,3808.6 487.8,3799.2 488.3,3796.3 489.1,3791.5 490.3,3782.5 491.6,3772.8 491.6,3772.3 493.0,3764.1 494.3,3755.7 494.9,3753.1 496.0,3749.2 497.8,3745.7 498.9,3741.7 499.7,3739.3 501.8,3737.3 502.2,3736.4 504.2,3737.6 506.6,3738.0 507.2,3738.9 508.7,3735.6 510.5,3733.1 510.7,3732.8 512.3,3725.5 513.8,3717.5 513.9,3718.5 516.1,3721.6 518.3,3723.5 518.9,3723.5 520.6,3720.1 522.9,3719.1 523.8,3717.8 525.0,3717.0 527.1,3711.9 527.2,3712.8 529.4,3710.3 531.8,3710.1 532.2,3709.1 534.4,3707.7 537.0,3708.9 537.2,3709.1 539.1,3713.6 541.1,3715.5 541.5,3716.6 543.3,3719.0 545.5,3722.0 545.5,3720.3 548.0,3722.5 550.5,3722.9 552.1,3723.5 552.9,3723.5 555.1,3718.8 557.1,3716.8 557.3,3716.6 559.8,3716.3 560.4,3715.5 561.8,3720.2 563.7,3725.2 564.8,3726.4 565.9,3725.8 568.5,3727.8 570.4,3725.5 571.0,3724.8 573.5,3726.0 575.4,3728.6 575.9,3729.3 578.2,3730.0 580.4,3731.7 580.6,3730.1 583.1,3732.8 583.7,3732.5 585.1,3728.8 586.9,3723.3 587.1,3723.1 589.2,3724.5 590.4,3726.1 591.4,3727.2 593.8,3728.4 594.7,3730.1 595.9,3728.5 598.0,3724.5 598.7,3722.5 600.2,3720.6 602.0,3719.8 602.5,3720.7 604.5,3724.7 605.4,3726.4 606.7,3726.0 608.7,3729.2 608.9,3728.9 611.1,3726.9 613.3,3724.8 613.7,3723.5 615.7,3722.6 617.0,3721.8 618.1,3723.2 620.3,3726.0 622.0,3726.8 622.6,3727.4 625.1,3726.8 627.0,3728.7 627.5,3727.2 629.7,3725.0 631.3,3722.9 631.9,3723.8 633.6,3722.1 634.3,3720.9 636.5,3724.4 638.0,3726.4 638.7,3727.5 640.8,3730.3 641.9,3733.3 642.9,3733.2 645.1,3736.5 646.9,3739.7 647.4,3740.1 649.9,3739.5 651.9,3739.5 652.4,3741.1 654.9,3739.1 655.2,3737.9 657.3,3738.7 659.7,3740.9 661.9,3741.7 662.1,3740.8 664.7,3743.5 667.2,3741.7 668.6,3742.3 669.8,3743.5 672.3,3740.8 674.8,3742.2 675.2,3741.2 677.2,3743.8 679.4,3745.1 680.2,3746.4 681.6,3750.0 683.6,3752.2 685.2,3754.8 685.8,3755.8 688.0,3757.0 689.2,3758.5 690.3,3757.5 692.6,3755.0 693.5,3754.5 694.8,3754.7 697.0,3749.4 697.8,3750.2 699.2,3752.9 701.4,3754.9 701.8,3754.4 703.2,3759.9 704.9,3765.1 705.1,3767.3 707.3,3767.6 709.8,3765.8 711.8,3766.0 712.4,3766.4 714.8,3764.0 717.3,3763.7 719.7,3763.2 720.1,3763.6 722.1,3764.0 724.5,3764.7 726.8,3767.5 726.9,3768.2 729.4,3766.3 731.8,3763.9 733.4,3764.5 734.3,3764.3 736.8,3764.1 739.3,3762.5 740.1,3763.5 741.8,3765.2 744.2,3766.7 745.1,3766.2 746.4,3766.4 748.4,3770.6 748.6,3769.1 750.8,3768.9 753.0,3766.0 753.4,3765.1 755.5,3763.2 756.7,3763.4 757.7,3767.0 759.5,3771.3 761.4,3776.1 761.7,3776.4 763.6,3775.4 765.9,3771.8 766.7,3771.2 768.1,3769.6 770.4,3767.2 771.0,3767.3 772.5,3771.0 774.5,3772.7 775.0,3774.4 776.5,3777.9 778.3,3781.6 778.6,3780.4 779.0,3781.2 780.8,3777.9 783.0,3776.0 783.0,3776.4 784.5,3769.3 785.7,3763.3 786.2,3761.8 788.3,3761.1 788.5,3763.1 790.2,3768.2 791.6,3773.1 792.0,3773.8 794.6,3774.4 795.6,3773.8 796.6,3769.5 798.3,3765.2 798.4,3763.9 800.6,3761.1 801.6,3761.4 802.8,3763.4 804.9,3766.8 804.9,3766.2 806.8,3771.7 808.3,3774.8 808.8,3774.5 811.0,3779.2 812.3,3780.1 813.3,3780.9 815.8,3779.7 817.3,3778.5 818.4,3779.7 821.0,3780.2 822.2,3778.8 823.6,3780.3 826.2,3780.6 828.2,3779.0 828.4,3777.1 829.1,3764.7 829.6,3756.8 829.8,3750.9 830.3,3737.3 830.6,3730.0 831.3,3727.4 832.9,3721.8 833.1,3721.9 835.5,3719.2 836.2,3720.4 837.7,3722.3 839.5,3725.3 839.9,3724.5 842.0,3729.6 842.9,3729.3 844.3,3728.8 846.5,3726.2 846.6,3727.0 848.7,3722.7 849.9,3721.2 851.0,3722.2 853.3,3723.5 853.8,3724.9 855.6,3727.2 857.9,3727.6 858.2,3727.9 860.1,3724.4 862.2,3723.2 862.4,3723.4 864.7,3720.1 866.2,3720.8 867.0,3720.6 869.3,3722.6 870.5,3725.3 871.5,3726.5 873.6,3730.8 875.5,3732.6 875.7,3731.8 878.0,3734.6 880.2,3737.7 880.5,3738.4 882.6,3739.8 885.1,3740.6 885.5,3740.0 887.6,3738.4 890.0,3738.1 890.4,3738.1 892.3,3740.1 893.8,3741.3 894.7,3741.7 897.3,3741.4 899.9,3740.0 900.4,3741.9 902.4,3742.5 904.9,3744.0 905.4,3743.4 907.3,3743.0 909.8,3742.7 910.4,3740.8 912.0,3742.5 913.7,3744.4 914.2,3746.2 916.2,3750.0 917.1,3751.6 918.3,3754.6 920.5,3755.2 922.0,3757.9 922.7,3758.5 925.0,3757.1 927.0,3754.8 927.4,3753.2 929.6,3751.9 931.4,3750.9 931.9,3751.4 933.9,3755.0 934.7,3756.4 935.8,3759.9 937.7,3764.8 938.7,3767.4 939.9,3768.3 942.4,3767.6 945.0,3766.1 945.3,3766.2 947.5,3766.7 950.0,3765.9 950.3,3765.3 952.4,3763.1 954.9,3764.4 955.3,3763.6 957.3,3763.4 959.6,3766.0 960.3,3767.3 962.0,3766.3 964.6,3769.1 965.3,3767.9 966.9,3767.1 969.2,3763.7 970.3,3762.9 971.6,3762.4 974.1,3763.7 975.3,3764.0 976.6,3763.8 978.9,3766.8 980.3,3767.0 981.3,3768.3 983.7,3769.0 985.2,3770.2 986.0,3768.5 988.1,3765.4 990.2,3764.0 990.3,3763.7 992.4,3765.8 994.6,3770.2 994.6,3770.3 996.6,3772.3 997.9,3776.0 998.8,3775.1 1001.0,3772.3 1001.9,3771.5 1003.3,3771.7 1005.6,3768.0 1005.9,3768.3 1007.5,3772.6 1009.2,3776.3 1009.5,3776.4 1011.6,3780.7 1012.5,3781.6 1013.9,3780.8 1016.3,3780.0 1016.9,3779.5 1018.2,3775.4 1019.8,3767.5 1020.2,3767.3 1021.8,3764.3 1023.5,3761.2 1023.8,3762.6 1025.7,3767.3 1026.8,3769.4 1027.8,3770.7 1030.0,3772.0 1030.2,3773.5 1031.9,3768.2 1033.5,3764.7 1033.9,3763.6 1036.2,3760.8 1036.8,3761.2 1038.2,3763.5 1040.1,3768.3 1040.2,3769.3 1042.1,3772.4 1043.5,3776.1 1044.2,3777.0 1046.6,3776.9 1048.5,3779.0 1049.0,3780.0 1051.6,3777.9 1053.4,3779.0 1054.2,3778.7 1056.7,3776.6 1058.4,3777.2 1059.1,3778.1 1061.6,3777.6 1063.4,3779.5 1064.0,3780.3 1066.4,3782.2 1068.4,3782.1 1068.9,3782.5 1071.4,3779.7 1073.4,3780.6 1073.8,3779.6 1075.8,3777.5 1076.7,3774.7 1078.1,3774.8 1080.4,3770.9 1081.7,3771.5 1082.8,3772.2 1085.2,3770.7 1086.7,3769.2 1087.6,3767.2 1089.8,3766.7 1091.7,3762.7 1092.0,3764.2 1094.2,3761.0 1096.4,3758.2 1096.7,3757.2 1098.6,3754.0 1100.8,3752.0 1101.7,3751.7 1103.2,3751.6 1105.0,3750.4 1105.7,3751.6 1108.3,3749.4 1108.3,3750.6 1110.6,3749.4 1110.7,3749.3 1113.2,3750.2 1115.7,3749.4 1117.3,3747.8 1118.3,3747.7 1120.8,3747.4 1123.4,3749.6 1123.9,3749.1 1125.9,3748.0 1128.4,3748.1 1130.6,3748.6 1130.9,3747.3 1132.8,3743.2 1133.9,3740.0 1134.8,3738.8 1137.0,3736.4 1137.3,3735.7 1139.1,3738.2 1140.6,3741.5 1141.1,3742.6 1142.9,3748.0 1143.9,3751.2 1144.9,3752.4 1147.4,3749.7 1148.9,3748.9 1149.8,3748.3 1152.1,3750.5 1153.9,3752.9 1154.5,3752.4 1156.8,3755.1 1157.2,3754.6 1159.0,3752.6 1160.5,3749.8 1161.2,3751.0 1163.6,3751.6 1165.5,3752.4 1166.0,3752.5 1168.1,3756.5 1170.2,3760.3 1170.5,3760.0 1172.1,3764.2 1173.8,3769.0 1173.9,3770.4 1176.3,3772.1 1178.6,3771.9 1178.8,3773.3 1181.0,3772.9 1183.4,3771.3 1183.8,3771.0 1185.8,3772.5 1188.3,3771.5 1188.8,3773.0 1190.9,3771.9 1193.5,3772.1 1195.5,3773.0 1196.0,3771.3 1198.6,3771.5 1200.5,3771.6 1201.0,3770.2 1203.3,3768.0 1203.8,3768.5 1205.6,3770.0 1207.9,3772.4 1208.8,3772.8 1210.3,3773.1 1212.7,3772.2 1215.2,3771.0 1215.4,3770.3 1217.6,3771.2 1219.9,3773.4 1220.4,3773.2 1222.3,3775.8 1224.6,3776.4 1225.4,3776.4 1226.8,3774.4 1228.8,3769.8 1229.0,3769.7 1231.2,3771.1 1233.5,3771.9 1234.6,3773.3 1235.8,3774.2 1238.0,3778.1 1240.1,3781.9 1240.2,3780.8 1242.6,3782.5 1245.1,3781.7 1247.5,3783.8 1247.6,3783.6 1249.8,3785.6 1252.1,3788.5 1254.4,3789.7 1255.1,3790.4 1256.8,3792.1 1259.2,3791.4 1261.6,3793.3 1262.6,3794.5 1264.0,3796.4 1266.3,3798.6 1268.7,3798.1 1270.0,3800.0 1271.0,3799.9 1271.9,3801.2 1273.3,3800.1 1275.4,3795.2 1277.5,3793.4 1277.6,3794.7 1279.9,3790.9 1282.2,3789.7 1284.5,3788.2 1284.9,3786.6 1286.8,3786.3 1289.2,3782.1 1291.5,3781.4 1292.4,3780.9 1293.6,3778.4 1295.6,3774.0 1296.1,3773.3 1297.7,3772.1 1299.1,3768.6 1299.9,3769.2 1302.5,3769.1 1305.1,3770.1 1305.5,3769.3 1307.7,3769.9 1310.2,3769.0 1312.7,3771.6 1312.9,3770.4 1315.3,3772.3 1317.8,3770.3 1320.4,3770.2 1322.2,3770.9 1323.0,3771.2 1325.3,3773.8 1327.7,3775.3 1330.1,3776.3 1331.6,3776.6 1332.5,3776.3 1334.8,3778.4 1337.2,3780.2 1339.0,3782.3 1339.5,3783.8 1341.9,3785.3 1344.3,3783.6 1346.8,3787.5 1348.4,3787.2 1349.2,3787.0 1351.7,3788.8 1354.1,3790.0 1356.6,3789.1 1357.7,3790.7 1359.1,3792.3 1361.6,3792.2 1364.2,3792.6 1365.1,3790.9 1366.4,3794.7 1368.3,3798.5 1370.0,3802.9 1370.3,3801.5 1372.8,3803.3 1374.5,3803.2 1375.3,3804.0 1377.6,3802.1 1378.2,3800.5 1380.0,3801.2 1382.5,3801.8 1383.8,3803.7 1384.9,3803.3 1387.2,3800.0 1389.4,3800.3 1389.6,3801.1 1391.8,3797.2 1394.1,3795.4 1395.0,3794.1 1396.4,3793.6 1397.6,3792.3 1398.4,3795.8 1399.9,3803.5 1400.6,3805.9 1401.9,3806.0 1404.3,3807.6 1404.4,3806.4 1406.0,3799.2 1407.3,3794.7 1407.6,3792.9 1410.0,3791.8 1411.8,3790.4 1412.3,3790.3 1414.5,3792.9 1416.8,3795.7 1417.4,3795.7 1419.2,3795.4 1421.6,3792.7 1423.0,3793.1 1424.0,3792.2 1426.5,3791.6 1426.7,3792.2 1428.8,3793.7 1431.1,3797.3 1432.3,3797.4 1433.4,3796.0 1435.7,3794.6 1437.1,3792.6 1438.0,3792.6 1440.3,3795.4 1441.6,3796.4 1442.5,3797.8 1444.5,3802.1 1446.6,3805.4 1447.2,3806.6 1448.9,3806.4 1451.3,3808.9 1452.8,3809.7 1453.7,3809.0 1456.2,3809.4 1458.4,3806.9 1458.7,3807.9 1461.1,3805.5 1463.2,3805.7 1463.5,3805.6 1465.7,3808.7 1467.7,3810.8 1467.9,3810.4 1470.4,3813.5 1472.8,3814.0 1475.2,3814.9 1475.2,3813.6 1477.6,3815.4 1480.0,3818.7 1482.5,3817.5 1482.6,3818.6 1484.9,3820.2 1487.3,3820.7 1488.2,3821.2 1489.6,3821.2 1491.9,3818.5 1493.1,3816.4 1494.1,3814.6 1496.1,3810.9 1496.8,3810.1 1498.4,3811.5 1500.8,3811.8 1501.3,3813.1 1503.1,3813.9 1505.5,3814.2 1506.9,3816.4 1507.9,3816.1 1510.5,3815.2 1512.5,3816.1 1513.0,3817.7 1515.4,3818.7 1517.9,3818.8 1518.1,3818.9 1520.1,3816.2 1522.3,3813.9 1523.7,3812.6 1524.6,3811.6 1526.9,3814.4 1529.2,3816.3 1529.3,3816.5 1531.5,3818.7 1533.8,3819.9 1534.8,3822.4 1536.1,3824.2 1538.6,3822.6 1540.4,3823.8 1541.0,3823.1 1543.4,3822.7 1544.2,3820.9 1545.6,3820.3 1547.8,3816.0 1549.8,3814.9 1550.1,3815.4 1552.6,3814.6 1555.1,3812.0 1556.5,3813.4 1557.4,3815.4 1559.5,3817.9 1561.0,3820.7 1561.6,3821.2 1564.0,3821.4 1566.4,3823.7 1566.6,3824.4 1568.9,3824.6 1571.4,3823.8 1573.9,3824.9 1574.0,3825.7 1576.4,3826.5 1579.0,3827.0 1581.5,3826.7 1581.6,3826.4 1584.1,3827.9 1586.7,3825.5 1587.1,3826.2" fill="none" stroke="#EB0000" stroke-width="5.6" stroke-linejoin="round" stroke-linecap="butt" shape-rendering="crispEdges"/>
<polyline points="281.7,3543.1 283.5,3539.0 284.0,3536.1 284.9,3529.2 286.1,3521.9 286.3,3519.5 287.7,3513.1 289.0,3508.4 289.2,3509.0 290.8,3517.0 291.6,3519.6 292.4,3523.7 294.0,3528.0 294.2,3528.7 296.5,3531.9 297.3,3531.7 298.6,3534.7 300.6,3536.7 300.7,3535.0 302.7,3533.2 303.9,3529.9 304.7,3527.7 306.7,3523.4 307.3,3523.5 308.3,3529.1 309.7,3537.6 310.6,3541.7 311.3,3539.8 312.9,3532.5 313.9,3528.4 314.6,3526.6 316.3,3521.3 316.4,3523.0 318.9,3522.2 319.6,3523.5 320.9,3527.6 322.2,3530.0 322.8,3530.3 324.7,3536.7 325.6,3538.3 326.7,3538.9 328.8,3541.8 328.9,3543.2 330.8,3546.1 332.2,3550.9 332.8,3549.8 335.0,3547.2 336.2,3545.7 337.2,3544.9 339.4,3542.6 340.5,3539.6 341.7,3539.8 344.1,3541.3 345.5,3541.3 346.5,3540.5 348.7,3537.7 349.5,3536.4 351.0,3536.0 352.9,3534.2 353.2,3534.5 354.9,3542.6 356.2,3546.3 356.7,3546.6 359.0,3548.3 360.5,3550.2 361.1,3548.9 362.9,3542.5 363.8,3539.7 364.8,3536.8 366.8,3535.0 368.2,3531.1 368.8,3533.3 370.7,3537.5 371.5,3539.6 372.4,3543.7 374.0,3550.3 374.8,3554.3 375.7,3553.1 377.7,3549.7 378.1,3548.3 380.0,3545.9 380.5,3546.6 381.9,3549.7 383.7,3555.9 383.8,3556.8 385.7,3561.0 387.1,3562.4 387.8,3564.1 390.1,3565.2 392.1,3567.1 392.4,3567.4 395.0,3568.7 397.6,3567.9 398.8,3567.0 399.8,3564.8 401.7,3559.6 402.1,3557.9 403.7,3556.4 404.7,3554.4 405.7,3557.3 407.4,3563.6 408.1,3564.3 409.6,3564.0 411.4,3563.2 411.9,3561.5 413.8,3556.4 415.4,3553.3 415.6,3552.1 417.2,3545.2 418.7,3539.3 418.9,3540.4 420.7,3533.7 422.5,3527.9 422.7,3527.9 424.4,3523.6 426.3,3520.7 427.0,3517.8 428.4,3515.3 430.4,3512.1 430.4,3512.5 432.6,3514.4 433.7,3516.4 434.4,3521.1 435.8,3529.4 436.3,3531.8 437.6,3527.6 439.6,3524.4 440.3,3523.5 441.7,3519.9 443.7,3517.9 443.8,3518.1 446.3,3517.0 447.0,3517.4 448.0,3512.1 449.3,3504.8 449.5,3503.6 451.3,3498.1 452.0,3496.3 453.4,3496.4 455.3,3499.4 455.7,3497.6 457.7,3495.9 458.6,3493.4 459.9,3490.4 461.3,3489.9 461.8,3492.6 463.3,3499.0 463.6,3501.5 464.9,3505.6 466.5,3513.6 467.0,3514.3 468.6,3513.6 470.3,3512.0 470.7,3510.6 472.3,3502.8 473.6,3498.3 473.9,3496.0 475.4,3489.0 475.9,3486.9 477.3,3485.2 477.9,3482.7 478.9,3488.1 480.3,3495.0 480.5,3494.8 482.2,3502.2 483.6,3506.9 483.9,3507.2 486.0,3509.8 486.9,3511.9 488.0,3514.4 489.9,3518.3 490.2,3519.6 492.1,3520.7 493.6,3523.5 494.2,3525.4 495.9,3531.7 496.9,3535.1 497.8,3537.2 500.0,3537.5 501.2,3539.7 502.2,3542.4 504.3,3545.6 505.2,3546.3 506.2,3543.9 508.0,3537.4 508.5,3536.1 509.5,3529.9 510.8,3522.1 511.2,3519.6 512.6,3517.1 514.5,3513.7 514.6,3512.3 516.7,3516.7 517.9,3518.5 518.9,3517.6 521.3,3515.4 521.8,3515.1 523.3,3510.5 525.3,3508.8 525.8,3506.7 527.2,3503.6 528.5,3499.5 529.1,3497.4 530.8,3496.8 531.2,3498.5 532.8,3506.4 533.5,3510.3 534.2,3514.8 535.6,3521.9 535.8,3523.3 537.4,3527.8 539.1,3531.3 539.3,3533.1 541.4,3536.9 543.4,3540.2 543.5,3540.2 545.2,3545.8 546.1,3548.3 547.0,3545.8 549.0,3541.6 550.1,3539.5 550.9,3541.1 552.7,3548.5 553.4,3549.6 555.0,3548.2 557.6,3549.2 558.4,3549.4 559.9,3548.1 562.2,3545.5 563.4,3544.5 564.4,3543.3 566.5,3539.9 566.8,3539.6 568.4,3544.8 570.1,3547.9 570.3,3547.4 572.0,3542.2 573.4,3536.9 573.7,3535.3 575.6,3529.3 576.7,3527.6 577.6,3527.7 580.0,3528.0 581.7,3529.4 582.4,3528.6 584.8,3527.7 585.0,3527.8 586.6,3532.9 587.7,3538.6 588.1,3536.0 589.4,3526.3 590.0,3523.1 591.2,3525.8 593.3,3528.1 593.4,3527.7 595.0,3534.2 596.6,3540.8 596.7,3541.9 598.6,3545.4 600.0,3548.1 600.7,3549.1 603.0,3549.3 605.0,3552.6 605.2,3553.0 607.4,3549.8 608.3,3548.0 609.0,3546.3 609.5,3545.9 611.6,3549.2 612.3,3551.1 613.3,3556.3 614.8,3564.4 615.0,3564.5 616.6,3560.6 618.3,3556.6 618.5,3556.2 620.3,3549.6 620.6,3550.2 622.7,3550.9 625.0,3551.3 625.1,3550.5 627.3,3549.0 628.3,3547.6 629.3,3544.1 631.1,3539.2 631.6,3538.2 633.5,3536.6 635.6,3537.1 635.9,3538.9 637.8,3542.4 638.9,3545.2 639.7,3546.9 641.4,3554.2 642.3,3556.8 643.2,3558.1 645.1,3563.5 646.3,3566.6 647.1,3567.3 649.4,3569.2 650.6,3569.5 651.8,3570.9 654.1,3572.0 654.9,3573.4 656.3,3570.5 658.4,3568.7 658.9,3566.5 660.4,3562.8 662.2,3559.7 662.4,3558.5 664.4,3556.4 664.6,3555.0 665.7,3564.0 666.6,3569.6 667.2,3572.2 668.9,3576.1 669.0,3577.0 671.5,3576.3 673.9,3574.5 674.0,3573.6 676.5,3575.0 678.2,3575.9 678.9,3576.1 681.0,3578.4 682.2,3581.4 683.1,3584.1 685.1,3586.6 686.2,3590.2 687.0,3592.2 688.8,3596.7 689.5,3599.3 690.7,3601.9 692.2,3605.3 692.7,3603.6 694.7,3599.9 695.5,3599.7 696.5,3594.9 698.1,3588.4 698.2,3588.0 699.9,3584.1 701.5,3579.8 701.9,3578.4 703.9,3574.8 705.5,3573.5 706.1,3571.4 708.6,3570.8 710.5,3571.0 711.0,3572.0 713.4,3569.3 714.8,3568.5 715.6,3569.5 717.8,3571.4 718.8,3573.0 720.0,3572.3 722.2,3568.2 723.8,3567.4 724.5,3567.2 726.9,3567.3 728.8,3569.6 729.3,3570.1 731.8,3569.4 734.3,3572.5 735.4,3571.9 736.9,3571.3 739.4,3572.3 740.4,3571.0 741.8,3569.7 743.7,3567.8 744.1,3569.9 746.4,3572.0 747.1,3571.4 748.8,3571.9 750.4,3572.7 751.1,3574.5 753.2,3578.3 753.7,3578.0 755.7,3577.8 758.2,3579.4 758.7,3579.4 760.6,3576.8 762.7,3576.2 762.9,3576.2 764.6,3569.3 765.4,3568.4 766.4,3570.9 768.2,3577.5 768.7,3578.0 770.4,3575.4 772.0,3574.3 772.6,3572.7 774.6,3569.0 775.3,3568.4 776.6,3570.9 778.7,3573.2 778.8,3572.7 780.9,3576.4 782.6,3578.3 783.2,3578.1 785.5,3579.0 787.0,3581.4 787.8,3579.9 790.1,3577.8 792.0,3577.0 792.4,3575.4 794.7,3575.7 797.0,3572.2 797.0,3573.7 799.5,3572.5 800.3,3570.9 801.1,3578.1 801.9,3583.4 802.3,3586.7 803.4,3597.2 803.6,3598.0 805.0,3602.9 805.9,3607.7 806.7,3609.2 808.6,3614.1 808.7,3614.7 810.9,3614.9 811.3,3616.2 813.1,3612.5 814.6,3611.1 815.0,3608.9 816.5,3601.6 816.9,3599.4 818.4,3603.0 820.2,3606.1 820.4,3607.7 822.9,3605.9 825.2,3605.6 825.5,3606.6 828.0,3605.8 828.6,3606.1 830.0,3601.7 831.9,3597.4 832.5,3596.1 833.9,3594.4 835.9,3589.5 836.9,3588.3 838.2,3586.8 840.6,3585.0 841.9,3585.5 842.9,3584.2 845.1,3583.0 846.9,3579.5 847.3,3578.3 849.4,3574.9 851.2,3572.9 851.6,3574.2 853.5,3571.9 853.9,3571.2 856.0,3573.9 856.8,3576.4 858.1,3578.8 860.2,3581.0 861.2,3583.7 862.4,3585.4 864.7,3584.8 865.8,3587.3 867.0,3589.1 869.2,3592.1 870.1,3592.4 871.4,3590.6 873.5,3587.8 874.5,3586.0 875.5,3583.5 877.3,3577.6 878.5,3574.6 879.2,3572.2 881.2,3568.5 881.8,3567.7 883.3,3566.3 885.5,3562.7 885.8,3563.2 887.3,3558.5 889.1,3552.9 889.1,3552.1 891.3,3550.7 891.8,3550.0 893.6,3551.9 895.8,3553.2 895.9,3553.5 898.2,3553.6 900.6,3556.2 901.1,3557.4 903.0,3555.9 905.5,3554.1 906.7,3554.7 907.9,3555.3 910.3,3551.9 911.7,3552.1 912.7,3553.6 914.9,3557.3 915.0,3556.4 917.0,3552.6 919.0,3550.6 920.0,3547.7 921.3,3546.7 923.6,3546.1 925.0,3545.2 925.9,3544.9 928.2,3540.8 930.0,3538.9 930.4,3539.0 932.8,3539.5 934.3,3541.3 935.0,3540.0 936.7,3534.7 938.3,3528.0 938.4,3528.5 939.0,3540.0 939.2,3539.9 940.9,3533.6 942.3,3528.0 942.8,3528.4 945.1,3526.6 946.3,3525.0 947.5,3524.7 950.1,3526.4 950.6,3525.0 951.3,3515.3 952.2,3504.1 952.3,3502.7 953.0,3492.1 953.8,3480.5 954.0,3478.2 955.5,3482.7 957.3,3488.7 957.3,3487.7 959.4,3490.9 960.6,3493.1 961.5,3494.2 963.7,3497.3 964.9,3498.6 965.8,3501.3 967.6,3506.1 968.3,3508.3 969.8,3508.2 972.3,3508.6 972.4,3508.4 974.9,3507.3 976.3,3506.3 977.1,3508.0 979.1,3512.9 979.6,3513.0 981.1,3517.4 983.1,3521.2 983.9,3522.9 985.3,3523.5 987.8,3523.7 988.9,3523.6 990.4,3522.4 992.9,3525.1 993.9,3525.0 995.1,3527.5 997.2,3531.1 997.2,3529.9 999.6,3529.3 1000.5,3527.8 1001.7,3530.1 1003.7,3535.4 1003.9,3534.6 1005.5,3539.7 1007.3,3544.2 1008.2,3547.7 1009.4,3546.6 1011.8,3545.6 1012.2,3546.4 1014.1,3543.1 1016.2,3542.0 1016.4,3541.7 1018.3,3547.5 1020.3,3552.2 1020.5,3551.6 1022.2,3555.9 1024.0,3560.0 1024.8,3563.3 1026.2,3561.0 1028.6,3559.5 1030.5,3559.7 1031.0,3560.5 1033.3,3557.2 1035.5,3556.7 1035.6,3556.5 1037.4,3563.3 1038.8,3566.6 1039.3,3568.3 1041.3,3572.7 1042.8,3575.0 1043.2,3572.8 1045.1,3568.9 1046.1,3566.4 1046.7,3562.7 1048.0,3553.2 1048.1,3553.1 1049.6,3558.9 1050.4,3562.7 1051.2,3565.7 1052.8,3571.6 1052.9,3570.9 1054.5,3564.0 1056.1,3557.7 1056.2,3557.5 1058.2,3553.8 1058.8,3552.8 1060.0,3557.1 1061.4,3562.7 1061.7,3563.1 1063.5,3568.7 1065.4,3573.1 1065.4,3573.4 1067.4,3578.3 1069.4,3581.7 1069.4,3580.9 1071.7,3578.8 1072.7,3578.0 1073.5,3574.8 1075.1,3567.4 1076.1,3562.6 1076.6,3560.1 1078.1,3553.0 1078.7,3550.0 1080.2,3550.2 1082.0,3551.1 1082.5,3550.8 1084.6,3555.6 1086.7,3559.7 1087.0,3559.3 1088.9,3557.9 1091.1,3555.9 1092.0,3554.7 1093.5,3552.9 1095.8,3550.9 1097.0,3550.9 1098.1,3551.9 1100.4,3555.9 1102.0,3556.3 1102.6,3558.9 1104.4,3563.3 1105.3,3564.8 1106.3,3567.4 1108.1,3573.1 1108.7,3575.0 1110.0,3571.5 1112.0,3567.6 1112.0,3569.1 1114.3,3566.1 1115.3,3564.5 1116.4,3566.3 1118.5,3568.9 1119.3,3571.4 1120.8,3573.3 1123.1,3574.2 1123.6,3574.8 1125.3,3572.8 1127.4,3568.4 1128.0,3568.1 1129.6,3571.0 1131.3,3571.5 1131.8,3569.7 1134.0,3568.4 1135.3,3566.5 1136.0,3569.3 1137.8,3574.5 1138.6,3576.7 1139.2,3582.9 1140.2,3592.3 1140.9,3599.6 1141.3,3602.1 1142.5,3613.2 1142.9,3615.8 1143.6,3609.8 1144.6,3599.7 1144.6,3599.4 1145.5,3588.2 1146.5,3577.6 1146.9,3572.7 1147.9,3569.9 1149.7,3565.0 1150.2,3562.8 1151.7,3560.0 1153.6,3556.5 1153.7,3556.7 1155.7,3561.4 1156.9,3563.4 1157.8,3563.4 1160.0,3558.5 1161.2,3558.0 1162.2,3555.7 1164.4,3554.6 1165.2,3552.9 1166.8,3554.4 1169.3,3553.5 1170.2,3554.0 1171.4,3556.0 1173.2,3562.5 1173.5,3562.9 1175.7,3564.3 1178.3,3562.1 1180.2,3563.3 1180.6,3565.4 1182.5,3569.6 1183.5,3572.9 1184.3,3575.0 1185.8,3580.1 1186.1,3578.9 1187.7,3572.9 1189.2,3566.7 1189.4,3566.7 1191.2,3560.5 1192.5,3556.8 1193.2,3556.9 1195.7,3557.7 1195.8,3556.7 1197.4,3562.4 1198.5,3566.7 1199.0,3569.6 1200.5,3575.6 1201.1,3579.8 1202.1,3584.2 1203.5,3589.2 1203.6,3590.7 1204.4,3602.8 1205.1,3612.9 1205.4,3613.5 1207.4,3616.5 1209.1,3621.0 1209.4,3622.6 1211.5,3624.4 1213.4,3627.9 1213.6,3628.3 1215.7,3630.6 1216.8,3632.8 1217.2,3638.4 1218.2,3650.0 1218.4,3653.2 1219.3,3658.8 1220.5,3668.5 1221.1,3673.0 1222.1,3676.3 1223.4,3678.8 1224.1,3679.6 1226.5,3681.2 1228.4,3682.3 1228.8,3683.5 1231.3,3685.0 1233.4,3684.9 1233.6,3684.1 1235.5,3690.3 1236.7,3692.6 1237.6,3692.4 1238.1,3692.9 1240.0,3695.9 1242.3,3697.5 1243.7,3697.3 1244.7,3697.6 1247.2,3697.4 1249.7,3700.5 1250.4,3699.6 1252.2,3698.7 1254.7,3700.7 1255.4,3701.1 1256.9,3702.9 1258.9,3707.1 1259.3,3708.1 1261.0,3705.9 1263.3,3702.6 1263.7,3703.4 1265.6,3701.5 1267.0,3701.8 1268.1,3702.0 1270.5,3704.3 1272.0,3704.2 1272.9,3705.6 1275.3,3704.7 1277.0,3706.9 1277.7,3706.9 1280.0,3703.6 1281.3,3702.8 1282.4,3703.0 1284.7,3707.1 1287.0,3709.7 1287.0,3707.8 1289.1,3710.4 1291.3,3713.8 1291.9,3714.5 1293.4,3717.7 1295.5,3721.8 1296.9,3723.6 1297.7,3722.1 1300.2,3724.2 1301.9,3722.9 1302.7,3721.0 1305.1,3721.6 1306.9,3719.7 1307.5,3720.2 1309.9,3718.5 1311.9,3716.9 1312.2,3717.4 1314.0,3721.1 1315.9,3727.7 1316.9,3729.9 1318.1,3728.5 1320.6,3728.1 1321.2,3729.6 1323.0,3731.7 1325.4,3730.8 1326.9,3732.7 1327.7,3734.5 1330.0,3735.1 1331.9,3737.6 1332.3,3736.7 1334.6,3735.3 1336.9,3732.1 1336.9,3733.3 1339.2,3729.6 1341.5,3728.3 1341.8,3728.2 1343.6,3731.2 1345.6,3735.0 1346.8,3738.2 1347.6,3738.5 1349.6,3742.8 1351.6,3746.7 1351.8,3748.6 1353.6,3751.2 1355.6,3756.9 1356.8,3758.6 1357.6,3758.6 1359.6,3764.1 1361.7,3768.0 1363.5,3769.8 1363.8,3769.5 1366.0,3767.8 1368.3,3765.0 1368.5,3764.6 1370.5,3762.8 1372.6,3758.5 1373.4,3758.1 1375.0,3756.1 1377.5,3756.2 1379.9,3756.9 1380.1,3755.5 1382.5,3754.4 1385.0,3754.5 1385.1,3754.6 1386.9,3749.3 1388.9,3744.9 1390.1,3742.9 1390.9,3743.1 1393.1,3740.5 1394.4,3738.5 1395.4,3738.5 1397.9,3738.8 1400.1,3736.3 1400.4,3737.1 1402.9,3735.4 1405.0,3735.4 1405.3,3734.3 1407.4,3731.6 1409.5,3728.2 1410.0,3727.0 1411.6,3725.0 1413.4,3721.4 1413.8,3722.0 1416.3,3722.0 1418.4,3721.0 1418.8,3719.5 1421.2,3719.4 1423.3,3717.5 1423.5,3716.6 1425.6,3720.2 1426.7,3723.3 1427.5,3725.9 1429.3,3730.7 1430.4,3734.7 1431.0,3735.8 1432.8,3742.3 1433.4,3744.0 1434.8,3742.5 1436.9,3738.7 1437.9,3736.0 1439.2,3736.9 1441.7,3736.0 1443.5,3737.6 1444.1,3736.7 1446.0,3732.3 1447.2,3728.5 1447.9,3727.3 1449.8,3721.7 1450.9,3719.7 1451.7,3721.2 1453.8,3725.1 1455.8,3729.3 1455.8,3728.3 1458.3,3729.4 1460.8,3729.1 1462.1,3729.8 1463.4,3730.5 1466.0,3728.8 1468.6,3730.9 1471.2,3729.3 1471.4,3729.4 1473.7,3731.0 1476.2,3728.9 1478.8,3730.2 1478.9,3731.0 1481.0,3732.1 1483.2,3736.8 1483.4,3736.5 1485.3,3734.8 1487.4,3729.7 1488.2,3729.3 1489.6,3728.8 1491.8,3724.9 1493.1,3723.0 1493.8,3726.0 1495.3,3733.7 1495.7,3734.1 1497.1,3738.7 1498.3,3741.3 1499.3,3741.9 1501.8,3740.3 1504.3,3741.7 1505.0,3739.8 1506.9,3739.9 1509.5,3739.5 1510.6,3740.3 1511.8,3737.1 1513.8,3733.5 1514.3,3732.7 1515.9,3735.8 1518.2,3735.8 1519.2,3738.1 1520.5,3737.4 1523.1,3739.7 1523.7,3739.3 1525.5,3736.3 1527.4,3736.8 1527.8,3737.1 1530.0,3733.5 1531.1,3732.6 1531.9,3729.2 1532.9,3724.4 1533.1,3718.9 1533.4,3708.7 1533.4,3704.1 1533.7,3688.3 1533.9,3674.7 1533.9,3672.8 1534.4,3659.0 1534.9,3646.3 1535.0,3645.4 1535.9,3633.7 1536.5,3627.8 1537.3,3626.7 1538.8,3621.1 1538.9,3623.1 1539.6,3636.6 1540.1,3646.7 1540.1,3650.0 1540.5,3664.9 1540.7,3674.4 1540.8,3680.4 1541.1,3695.7 1541.3,3708.8 1541.3,3711.5 1541.4,3728.1 1541.5,3744.7 1541.6,3754.9 1541.9,3759.9 1542.6,3772.5 1543.3,3785.3 1544.0,3797.9 1544.3,3801.8 1544.8,3809.4 1545.5,3822.1 1546.3,3834.5 1546.6,3839.2 1546.9,3829.9 1547.4,3815.5 1547.8,3801.7 1547.8,3801.4 1548.4,3787.9 1548.9,3774.0 1549.4,3763.2 1549.6,3760.5 1550.7,3751.7 1551.2,3747.7 1551.9,3742.4 1553.1,3732.5 1554.3,3724.0 1554.4,3724.3 1555.4,3713.6 1556.4,3703.6 1556.7,3701.0 1557.3,3691.3 1558.1,3679.0 1558.2,3677.6 1558.9,3667.4 1559.7,3655.7 1559.8,3654.0 1560.9,3646.7 1562.1,3638.2 1562.3,3638.9 1564.4,3635.8 1566.5,3632.1 1566.8,3631.1 1567.7,3622.1 1568.7,3611.0 1569.1,3607.3 1569.7,3600.8 1570.8,3590.4 1571.4,3584.3 1572.0,3581.1 1573.5,3574.3 1575.0,3567.3 1576.1,3561.4 1576.5,3558.1 1577.9,3551.9 1579.4,3544.4 1580.7,3537.6 1580.9,3537.2 1582.3,3529.2 1583.6,3519.9 1584.6,3514.5 1584.9,3511.0 1586.0,3501.0 1587.0,3490.9 1587.0,3491.5 1587.7,3488.4" fill="none" stroke="#2A6096" stroke-width="5.6" stroke-linejoin="round" stroke-linecap="butt" shape-rendering="crispEdges"/>
<polyline points="281.7,3995.5 284.1,3997.0 286.6,3997.8 289.0,3998.0 289.1,3997.1 291.6,3998.8 294.1,3999.3 296.5,4000.3 297.3,4000.3 299.0,4000.6 301.5,4001.8 303.9,4002.7 304.0,4002.7 306.3,4003.6 308.7,4005.2 310.6,4007.2 311.1,4007.1 313.6,4007.9 316.1,4008.9 317.3,4008.7 318.6,4008.7 321.0,4011.0 322.2,4011.2 323.4,4010.6 325.8,4009.0 327.2,4008.0 328.2,4007.9 330.6,4009.4 332.2,4009.4 333.1,4009.8 335.6,4010.7 338.1,4010.8 338.2,4010.9 340.5,4009.7 342.9,4008.7 343.9,4007.8 345.4,4007.7 348.0,4008.0 350.6,4007.2 352.2,4007.6 353.2,4007.5 355.8,4008.4 358.4,4007.2 358.8,4007.6 360.9,4006.4 363.4,4005.5 363.8,4006.0 365.9,4006.1 368.5,4006.3 371.1,4005.2 372.1,4005.4 373.4,4003.5 375.6,4000.6 377.1,3999.0 377.8,3998.4 380.2,3996.4 382.1,3995.3 382.5,3995.8 385.0,3994.4 387.4,3993.4 388.8,3992.0 389.8,3991.7 392.2,3991.1 394.6,3989.4 395.4,3989.1 397.2,3988.2 399.8,3989.7 402.4,3988.0 403.7,3988.8 404.9,3987.3 407.2,3987.0 408.7,3985.6 409.5,3985.0 411.6,3981.5 413.7,3978.1 413.7,3977.9 416.0,3980.7 418.1,3982.0 418.3,3981.6 420.9,3982.8 423.5,3981.9 425.4,3982.0 426.1,3981.5 428.6,3982.4 431.2,3982.2 432.0,3983.1 433.4,3986.2 435.4,3989.3 435.4,3988.9 437.5,3992.5 439.7,3994.8 440.3,3996.2 442.0,3998.0 444.3,3998.9 445.3,4000.1 446.7,4001.4 449.2,4001.6 450.3,4002.1 451.7,4002.9 454.2,4003.0 456.8,4003.3 459.4,4003.1 460.3,4002.8 461.9,4004.0 464.3,4005.5 465.3,4005.5 466.7,4005.4 469.2,4006.1 471.7,4006.9 471.9,4007.3 474.3,4007.4 476.9,4007.5 479.5,4008.2 481.9,4007.6 482.0,4008.0 484.6,4007.5 487.2,4007.9 489.8,4008.4 491.9,4007.7 492.4,4008.7 494.9,4007.7 496.9,4008.8 497.5,4008.7 499.9,4007.3 501.9,4007.2 502.4,4007.1 505.0,4007.5 506.9,4007.9 507.5,4007.2 509.9,4009.0 511.9,4010.3 512.4,4009.7 514.8,4011.9 517.3,4011.8 518.5,4012.9 519.8,4012.3 522.4,4012.9 524.9,4013.1 527.5,4012.6 528.5,4013.6 530.1,4013.4 532.7,4013.8 535.3,4013.5 537.9,4013.5 540.5,4013.5 541.8,4013.3 543.0,4013.3 545.3,4010.4 546.8,4010.3 547.7,4010.1 550.0,4007.8 552.4,4006.6 552.4,4006.2 554.9,4005.6 557.4,4004.2 557.8,4004.4 559.8,4005.2 562.2,4006.2 563.4,4007.4 564.6,4007.6 567.0,4009.1 568.4,4010.1 569.4,4011.0 571.9,4011.3 573.4,4011.8 574.4,4011.3 577.0,4011.1 579.6,4010.6 581.7,4011.0 582.1,4010.5 584.5,4009.9 586.7,4007.8 586.8,4007.4 589.0,4010.8 591.2,4013.2 591.7,4014.5 593.5,4015.7 595.8,4018.1 598.1,4018.9 598.4,4019.6 600.5,4020.6 602.8,4023.5 605.0,4024.5 605.1,4023.8 607.4,4027.3 608.3,4027.6 609.0,4027.7 609.7,4027.9 612.0,4031.3 614.0,4032.5 614.3,4033.3 616.6,4034.7 618.9,4037.0 619.0,4036.6 621.4,4035.5 624.0,4036.5 625.6,4035.5 626.4,4034.4 628.9,4034.6 631.3,4033.3 632.3,4031.9 633.8,4031.4 636.3,4032.7 638.9,4032.1 638.9,4032.9 641.4,4032.1 643.9,4031.9 645.6,4031.1 646.4,4031.9 648.8,4033.1 650.6,4033.5 651.3,4033.8 653.7,4034.4 655.6,4035.2 656.2,4034.5 658.7,4035.1 661.2,4033.2 662.2,4033.4 663.6,4032.3 666.0,4031.4 668.4,4029.8 668.9,4029.6 670.8,4028.8 673.3,4028.1 675.5,4027.8 675.8,4028.1 678.3,4027.7 680.8,4025.9 683.3,4026.2 683.8,4025.7 685.8,4025.6 688.3,4023.4 690.8,4023.0 692.2,4022.9 693.2,4022.9 695.7,4020.6 698.2,4020.2 698.8,4020.2 700.6,4020.1 703.2,4019.1 705.5,4018.3 705.7,4018.3 708.2,4018.3 710.7,4019.4 712.1,4020.1 713.2,4020.8 715.7,4020.8 718.3,4020.9 718.8,4021.0 720.7,4022.2 723.0,4024.5 725.3,4025.9 725.4,4025.9 727.8,4027.2 730.3,4027.4 732.1,4028.0 732.8,4028.0 735.3,4028.8 737.9,4029.1 738.7,4029.5 740.4,4030.1 743.0,4030.0 745.5,4029.2 748.1,4028.7 748.7,4028.5 750.5,4027.8 752.8,4025.0 753.7,4024.4 755.2,4023.0 757.6,4021.8 758.7,4022.0 760.1,4023.1 762.6,4023.0 763.7,4022.9 765.1,4022.1 767.4,4019.9 768.7,4019.3 769.9,4019.2 772.3,4017.5 773.7,4017.8 774.7,4018.8 777.0,4021.1 778.7,4022.6 779.3,4022.2 781.8,4023.5 784.3,4023.6 785.3,4024.5 786.8,4024.3 789.4,4025.3 791.9,4026.0 794.4,4026.1 795.3,4026.1 797.0,4025.8 799.5,4026.4 802.1,4027.8 804.6,4026.8 807.2,4027.2 808.6,4027.7 809.7,4027.6 812.3,4027.6 814.8,4026.4 817.4,4027.1 818.6,4025.8 819.9,4026.8 822.4,4026.9 825.0,4027.9 827.5,4027.0 828.6,4027.9 830.0,4028.3 832.6,4027.4 835.1,4026.1 835.2,4027.0 837.5,4028.8 839.9,4028.6 840.2,4029.6 842.4,4027.8 844.8,4026.8 846.9,4026.9 847.3,4026.9 849.7,4025.8 852.1,4023.8 853.5,4022.8 854.5,4022.6 857.0,4023.6 859.5,4024.8 861.8,4024.5 862.1,4025.0 864.6,4023.2 867.1,4023.5 868.5,4022.9 869.6,4022.2 872.2,4023.8 873.5,4023.3 874.6,4023.9 876.9,4025.7 878.5,4027.8 879.2,4027.5 881.7,4030.0 883.4,4029.8 884.1,4030.6 886.7,4030.2 889.2,4029.6 890.1,4029.5 891.8,4029.4 894.2,4028.3 896.7,4026.7 898.4,4026.9 899.2,4026.4 901.8,4026.7 904.4,4026.4 906.9,4026.9 908.4,4026.0 909.5,4026.7 912.1,4025.3 914.7,4025.8 917.3,4026.4 919.9,4026.3 922.5,4026.7 925.0,4025.9 925.1,4026.6 927.7,4026.6 930.3,4025.4 932.9,4025.4 935.5,4026.2 938.1,4026.9 938.3,4026.2 939.0,4025.7 940.6,4025.5 943.2,4025.6 945.0,4024.8 945.7,4025.3 948.0,4027.2 950.3,4029.5 950.6,4029.2 952.8,4029.9 955.4,4029.1 957.3,4029.8 957.9,4030.5 960.4,4031.3 962.3,4032.0 962.9,4032.5 965.5,4031.1 968.1,4031.7 970.7,4031.5 973.3,4031.2 975.6,4031.7 975.9,4032.6 978.5,4032.2 981.1,4030.9 983.7,4031.1 986.2,4031.3 988.8,4032.1 990.6,4031.4 991.3,4030.0 993.5,4028.1 995.6,4025.6 995.8,4024.8 998.1,4023.7 1000.4,4022.4 1000.5,4021.6 1002.7,4020.0 1005.0,4017.1 1007.2,4015.8 1007.3,4015.7 1009.0,4010.1 1010.5,4004.8 1010.8,4003.7 1012.8,4001.0 1014.8,3996.2 1014.8,3996.6 1017.2,3994.8 1019.5,3993.6 1020.5,3992.4 1021.9,3991.4 1024.4,3991.2 1026.2,3990.8 1026.8,3992.1 1029.0,3994.4 1030.5,3996.6 1031.1,3997.4 1033.2,4001.4 1035.3,4004.0 1035.5,4005.0 1037.4,4008.6 1039.5,4010.7 1040.5,4013.3 1041.6,4014.9 1043.8,4017.4 1045.5,4018.9 1046.1,4019.8 1048.5,4020.9 1050.9,4021.8 1052.1,4022.3 1053.4,4022.5 1055.9,4021.4 1058.4,4021.2 1058.8,4020.2 1060.9,4019.5 1063.4,4019.3 1065.4,4018.8 1066.0,4019.6 1068.6,4019.0 1071.2,4019.0 1072.1,4018.8 1073.7,4019.9 1076.2,4019.6 1078.7,4020.8 1078.7,4020.5 1081.2,4020.8 1083.8,4021.1 1086.3,4021.3 1087.0,4021.8 1088.9,4021.8 1091.5,4021.7 1094.1,4021.3 1096.7,4022.1 1098.7,4022.0 1099.2,4022.7 1101.7,4021.8 1104.2,4021.0 1105.3,4020.6 1106.8,4019.7 1109.3,4019.0 1111.8,4019.3 1112.0,4018.9 1114.4,4019.6 1116.9,4018.2 1118.6,4018.3 1119.4,4017.2 1121.7,4015.4 1123.6,4014.8 1124.1,4014.8 1126.5,4012.9 1129.0,4012.8 1130.3,4011.7 1131.3,4010.6 1133.5,4008.5 1135.3,4006.0 1135.7,4004.7 1138.0,4003.3 1140.2,4000.9 1140.3,4000.6 1142.8,3999.8 1145.2,3999.8 1145.3,3999.9 1147.6,3998.5 1149.9,3995.3 1150.2,3995.7 1152.5,3995.3 1155.1,3996.0 1155.2,3995.3 1157.4,3996.7 1159.2,3998.9 1159.7,3998.9 1162.0,4001.2 1163.5,4002.7 1164.4,4002.4 1166.9,4002.4 1169.4,4003.9 1171.9,4004.0 1172.0,4004.3 1174.6,4004.6 1177.2,4004.0 1179.8,4004.5 1180.2,4004.2 1182.1,4006.6 1184.3,4008.7 1185.2,4009.3 1186.8,4009.6 1189.4,4008.7 1192.0,4009.1 1194.6,4009.6 1197.2,4009.6 1199.8,4009.5 1201.8,4009.3 1202.3,4008.9 1204.5,4005.6 1206.6,4002.9 1206.8,4002.2 1208.6,3998.4 1210.6,3994.4 1211.8,3991.7 1212.7,3991.3 1215.0,3988.6 1216.8,3987.0 1217.3,3987.5 1219.6,3985.5 1221.8,3983.7 1222.0,3983.0 1224.6,3984.2 1227.1,3983.4 1228.4,3983.0 1229.6,3983.3 1232.0,3981.2 1234.4,3980.0 1235.1,3979.3 1236.7,3977.4 1239.0,3975.8 1240.1,3974.7 1241.4,3974.3 1243.7,3972.5 1246.1,3971.7 1246.7,3970.6 1248.4,3968.5 1250.6,3966.2 1252.8,3963.1 1253.4,3963.2 1255.1,3962.1 1257.3,3959.6 1259.0,3957.0 1259.6,3957.7 1262.2,3956.4 1264.7,3956.1 1265.0,3956.6 1267.2,3955.1 1268.3,3954.7 1269.0,3953.0 1269.4,3952.7 1272.0,3953.1 1274.0,3954.1 1274.5,3953.6 1276.8,3956.4 1279.0,3958.1 1279.1,3958.6 1281.6,3958.0 1284.1,3959.2 1286.6,3960.4 1289.0,3960.3 1289.1,3960.4 1291.7,3960.2 1294.3,3960.5 1296.9,3960.8 1299.5,3959.8 1302.1,3961.2 1302.3,3960.4 1304.7,3960.9 1307.3,3959.6 1309.9,3959.3 1312.2,3959.7 1312.4,3959.1 1315.0,3958.9 1315.6,3959.0 1317.3,3960.0 1319.6,3963.2 1321.9,3964.7 1322.2,3964.9 1324.1,3967.7 1326.2,3971.3 1328.3,3973.3 1328.9,3974.6 1330.5,3976.8 1332.8,3978.0 1335.1,3981.0 1335.5,3981.6 1337.5,3982.8 1340.0,3982.2 1342.2,3983.8 1342.4,3983.7 1344.8,3985.7 1347.1,3986.4 1347.2,3987.3 1349.5,3986.3 1351.9,3984.0 1353.8,3982.6 1354.2,3982.8 1356.5,3981.0 1358.9,3979.2 1360.5,3977.5 1361.3,3976.7 1363.8,3977.6 1366.4,3977.4 1368.8,3976.6 1369.0,3976.2 1371.6,3977.4 1374.2,3976.7 1376.8,3976.2 1379.4,3977.0 1382.0,3976.0 1384.6,3976.0 1387.1,3976.7 1387.1,3975.8 1389.4,3974.6 1391.6,3971.4 1393.7,3969.2 1393.8,3969.4 1396.1,3967.5 1398.4,3964.1 1400.4,3962.3 1400.7,3962.5 1403.2,3961.9 1405.4,3962.2 1405.8,3961.8 1408.1,3963.3 1410.5,3965.6 1412.0,3966.3 1412.9,3966.6 1415.3,3968.3 1417.7,3969.2 1420.0,3971.8 1420.4,3971.7 1422.5,3971.6 1424.9,3974.0 1427.4,3974.0 1429.8,3976.0 1430.3,3975.6 1432.2,3975.1 1434.6,3973.9 1436.9,3971.2 1438.7,3970.3 1439.3,3969.6 1441.5,3967.9 1443.6,3965.0 1443.7,3964.3 1446.2,3965.1 1448.8,3964.3 1451.3,3964.1 1452.0,3963.5 1453.7,3961.8 1456.1,3961.5 1458.6,3959.1 1458.6,3959.7 1461.1,3959.7 1463.7,3958.9 1465.3,3959.1 1466.2,3959.1 1468.8,3959.6 1470.3,3960.1 1471.3,3959.3 1473.6,3957.5 1475.9,3956.0 1476.9,3954.7 1478.3,3956.1 1480.7,3957.2 1483.1,3958.5 1483.6,3958.2 1485.5,3959.7 1487.9,3960.6 1490.2,3962.9 1491.9,3964.3 1492.6,3965.3 1495.0,3966.4 1497.4,3966.7 1498.5,3967.7 1499.8,3968.7 1502.3,3970.0 1503.5,3970.0 1504.7,3969.1 1507.2,3969.0 1509.6,3966.6 1511.8,3966.6 1512.1,3966.6 1514.5,3968.6 1516.8,3969.3 1516.9,3968.7 1519.4,3968.9 1522.0,3968.9 1523.5,3970.0 1524.4,3971.7 1526.4,3974.6 1528.5,3978.0 1528.5,3978.3 1531.0,3978.5 1533.5,3980.0 1535.1,3980.4 1535.9,3980.5 1538.4,3981.9 1540.1,3982.0 1540.9,3982.3 1543.2,3984.1 1545.6,3986.1 1545.8,3985.3 1548.1,3984.5 1550.6,3983.8 1551.8,3983.7 1553.2,3983.8 1555.8,3984.4 1558.4,3983.3 1561.0,3984.2 1563.6,3983.7 1566.2,3984.0 1568.4,3983.8 1568.8,3984.1 1571.3,3983.8 1573.4,3984.9 1573.8,3984.6 1576.3,3984.7 1578.9,3983.9 1581.4,3983.1 1581.7,3983.4 1583.4,3979.1 1585.4,3974.8 1585.7,3974.6 1587.8,3974.4 1588.4,3973.6" fill="none" stroke="#FEC00E" stroke-width="5.6" stroke-linejoin="round" stroke-linecap="butt" shape-rendering="crispEdges"/>
</g>
<g stroke="#000" stroke-width="3.9" fill="none" stroke-linecap="butt">
<path d="M279.2 3056.7 V4136.9"/>
<path d="M1589.6 3056.7 V4136.9"/>
<path d="M256.9 3058.6 H1593.1"/>
<path d="M279.2 4116.6 H1593.0"/>
<path d="M256.9 3905.0 H279.2"/>
<path d="M256.9 3622.9 H279.2"/>
<path d="M256.9 3340.7 H279.2"/>
<path d="M267.9 4046.1 H279.2"/>
<path d="M267.9 3763.9 H279.2"/>
<path d="M267.9 3481.8 H279.2"/>
<path d="M267.9 3199.7 H279.2"/>
<path d="M541.3 4116.6 V4136.9"/>
<path d="M803.4 4116.6 V4136.9"/>
<path d="M1065.4 4116.6 V4136.9"/>
<path d="M1327.5 4116.6 V4136.9"/>
<path d="M410.2 4116.6 V4127.9"/>
<path d="M672.3 4116.6 V4127.9"/>
<path d="M934.4 4116.6 V4127.9"/>
<path d="M1196.5 4116.6 V4127.9"/>
<path d="M1458.6 4116.6 V4127.9"/>
</g>
<g font-size="69.0">
<text transform="translate(241.6 3924.6) scale(1 1)" text-anchor="end">200</text>
<text transform="translate(241.6 3642.5) scale(1 1)" text-anchor="end">400</text>
<text transform="translate(241.6 3360.3) scale(1 1)" text-anchor="end">600</text>
<text transform="translate(241.6 3078.2) scale(1 1)" text-anchor="end">800</text>
<text transform="translate(279.2 4206.0) scale(1 1)" text-anchor="middle">0</text>
<text transform="translate(541.3 4206.0) scale(1 1)" text-anchor="middle">1500</text>
<text transform="translate(803.4 4206.0) scale(1 1)" text-anchor="middle">3000</text>
<text transform="translate(1065.4 4206.0) scale(1 1)" text-anchor="middle">4500</text>
<text transform="translate(1327.5 4206.0) scale(1 1)" text-anchor="middle">6000</text>
<text transform="translate(1589.6 4206.0) scale(1 1)" text-anchor="middle">7500</text>
<text transform="translate(945.3 4315.5) scale(1 1)" text-anchor="middle">Reaction times (s)</text>
<text transform="translate(84.3 3986.4) rotate(-90) scale(1 1)" font-size="68.45" x="0" y="0">NO<tspan font-size="45.2" dy="14.5">x</tspan><tspan dy="-14.5"> </tspan>emission (mg/Nm<tspan font-size="45.2" dy="-20.0" dx="1.5">3</tspan><tspan dy="20.0" dx="3.5">)</tspan></text>
</g>
<g stroke-width="5.8" fill="none" stroke-linecap="round">
<path d="M376.0 3168.0 H497.0" stroke="#EB0000"/>
<path d="M376.0 3235.6 H497.0" stroke="#2A6096"/>
<path d="M376.0 3303.8 H497.0" stroke="#FEC00E"/>
</g>
<g font-size="55.2">
<text transform="translate(512.3 3185.6) scale(1 1)">Raw coal</text>
<text transform="translate(512.3 3253.2) scale(1 1)">Briquette</text>
<text transform="translate(512.3 3321.4) scale(1 1)">Semi-coke</text>
</g>
<text class="lab" x="858.5" y="4440.3" text-anchor="middle" font-size="85" letter-spacing="-1.9">(<tspan font-weight="bold">c</tspan>)</text>
</g>
</svg></body></html>
